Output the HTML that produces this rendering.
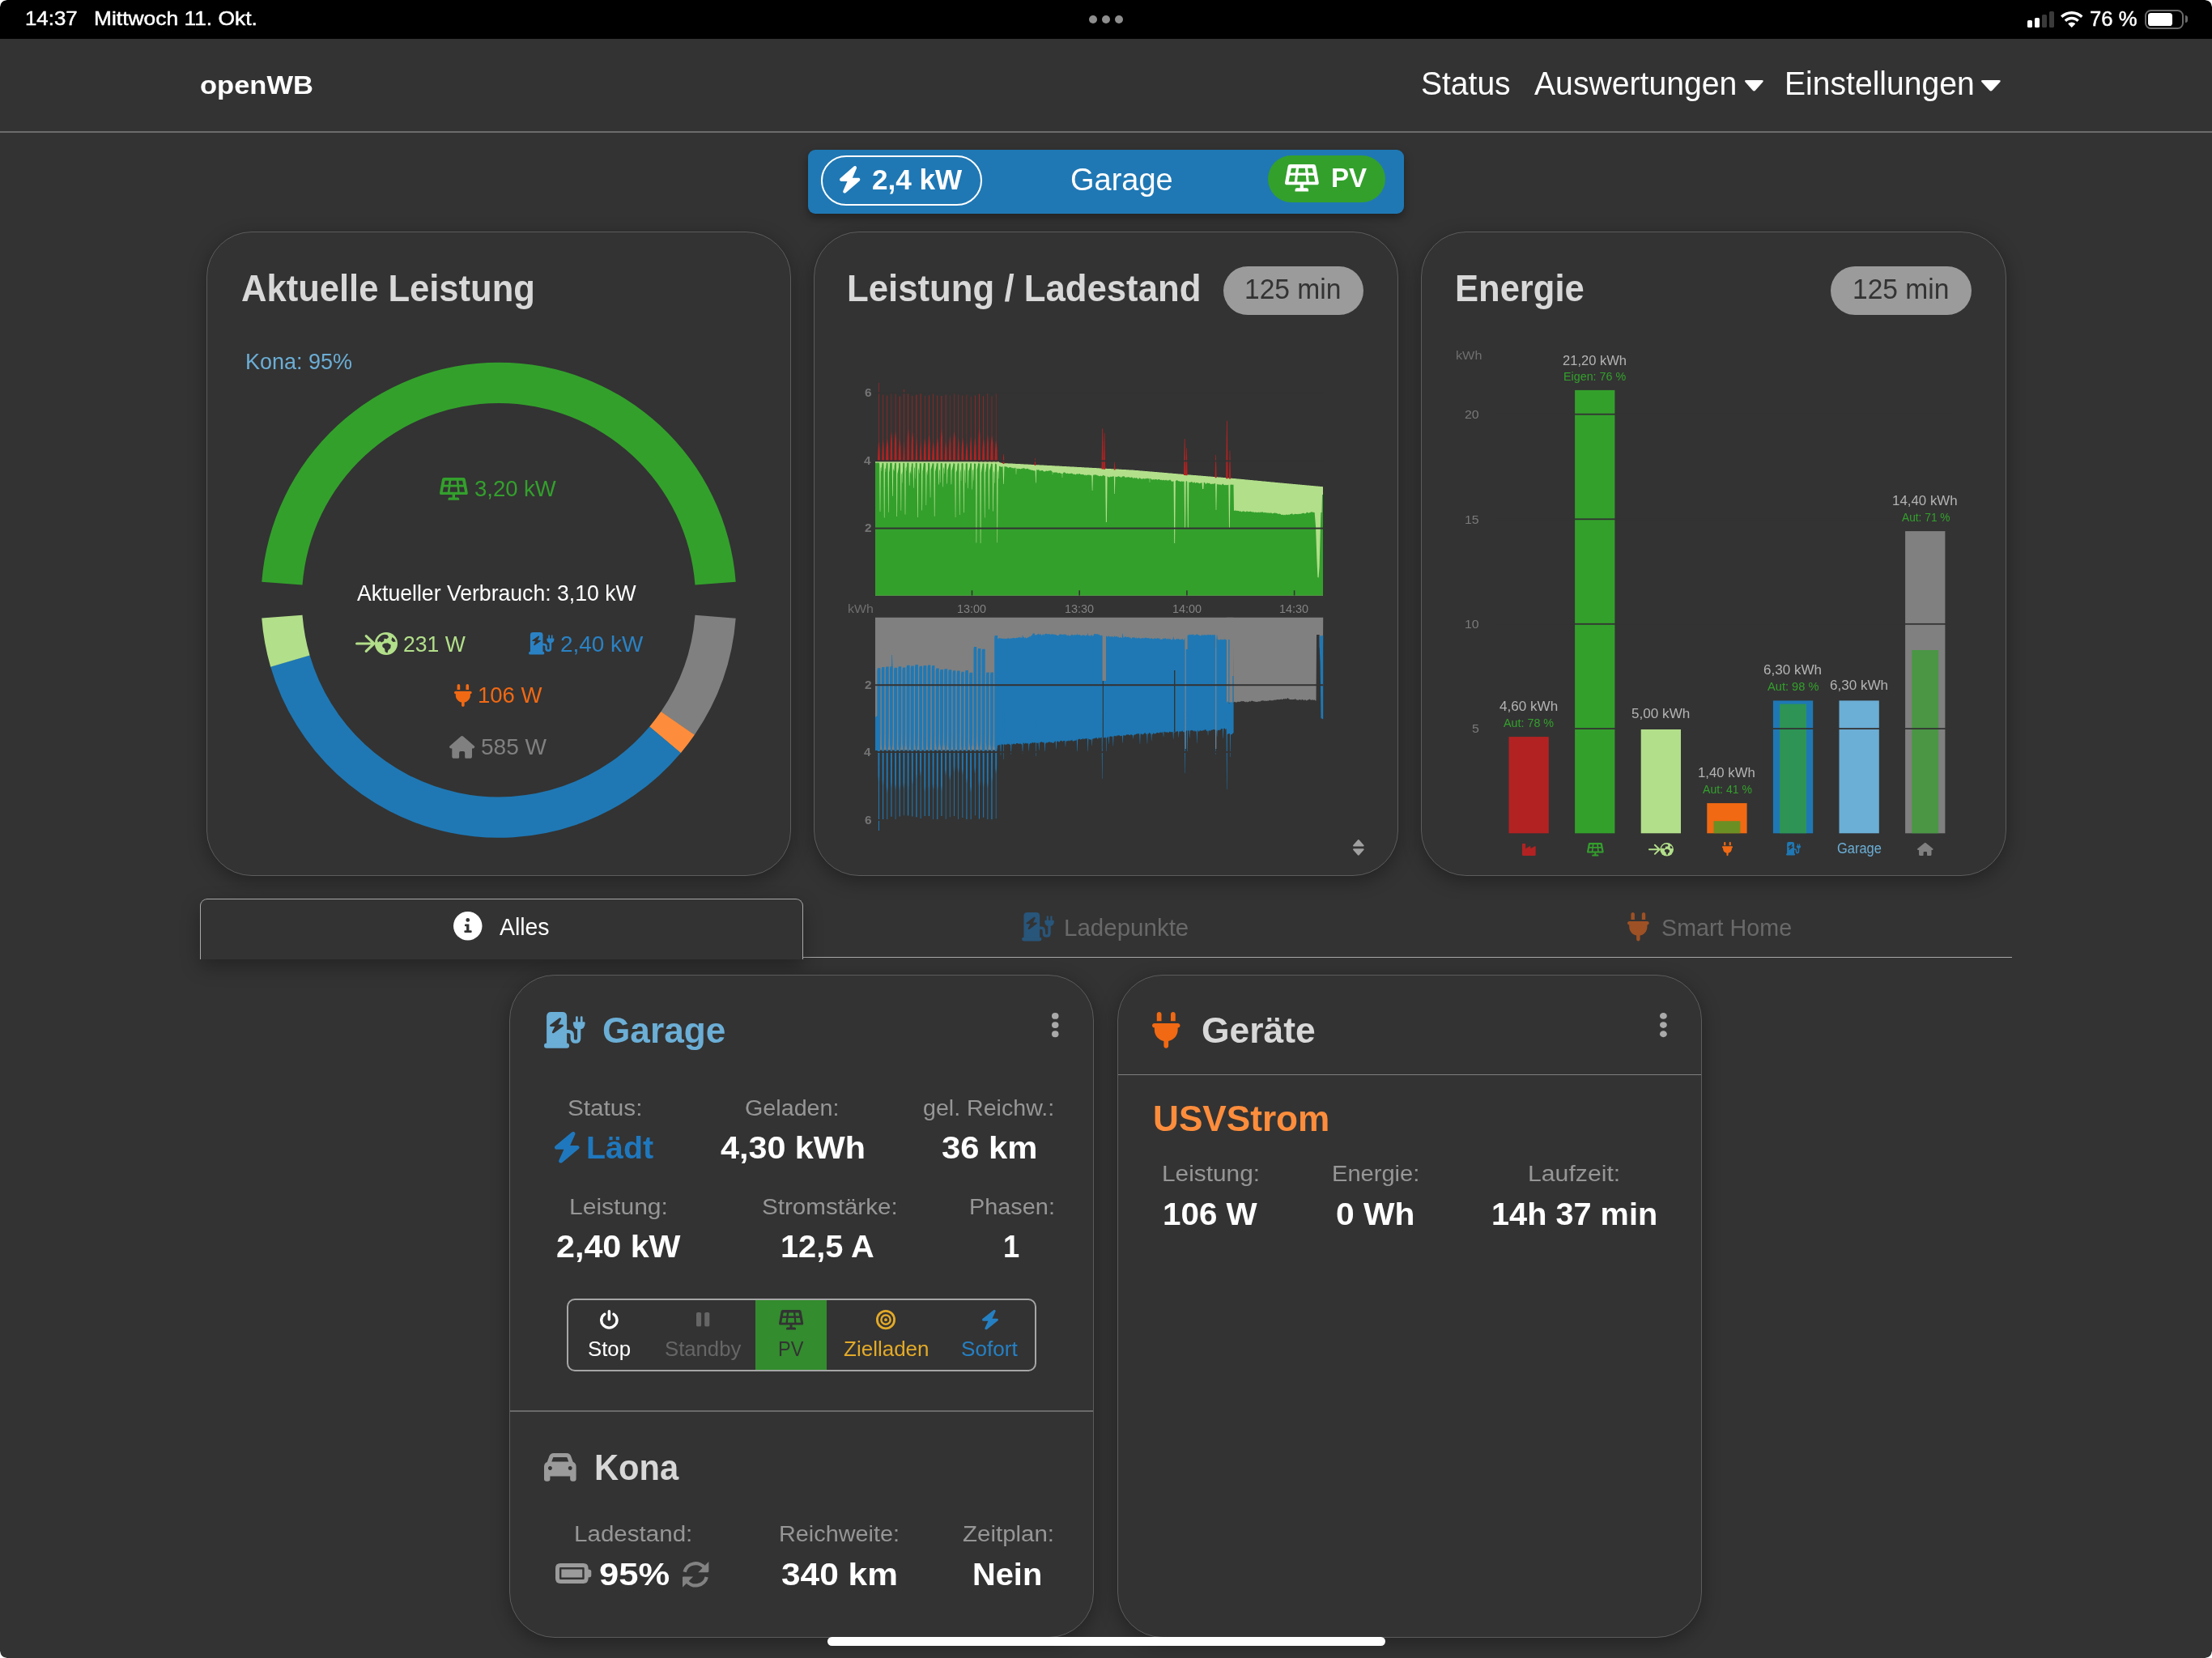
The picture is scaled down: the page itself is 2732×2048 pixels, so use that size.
<!DOCTYPE html>
<html lang="de"><head><meta charset="utf-8"><title>openWB</title><style>
html,body{margin:0;padding:0}
html{overflow:hidden;background:#333}
body{width:2732px;height:2048px;background:#333;position:relative;overflow:hidden;font-family:"Liberation Sans",sans-serif}
.t{position:absolute;white-space:nowrap;line-height:1;transform-origin:0 0;display:block}
.i{position:absolute;display:block;overflow:visible}
.a{position:absolute;box-sizing:border-box}
.card{position:absolute;box-sizing:border-box;border:1px solid #5c5c5c;border-radius:56px;background:#333;box-shadow:0 6px 22px 1px rgba(0,0,0,.30)}
.pill{position:absolute;background:#9b9b9b;border-radius:40px}
</style></head><body>
<div class="a" style="left:0;top:0;width:2732px;height:48px;background:#000"></div>
<div class="a" style="left:1345px;top:19px;width:10px;height:10px;border-radius:5px;background:#8e8e8e"></div>
<div class="a" style="left:1361px;top:19px;width:10px;height:10px;border-radius:5px;background:#8e8e8e"></div>
<div class="a" style="left:1377px;top:19px;width:10px;height:10px;border-radius:5px;background:#8e8e8e"></div>
<div class="a" style="left:2504px;top:24.9px;width:6px;height:9px;border-radius:1.6px;background:#fff"></div>
<div class="a" style="left:2513px;top:21.9px;width:6px;height:12px;border-radius:1.6px;background:#fff"></div>
<div class="a" style="left:2522.3px;top:18px;width:5.9px;height:15.9px;border-radius:1.6px;background:#3a3a3a"></div>
<div class="a" style="left:2531.3px;top:14px;width:5.8px;height:19.9px;border-radius:1.6px;background:#3a3a3a"></div>
<svg class="i" style="left:2545.3px;top:14px" width="27.5" height="20.1" viewBox="0 0 100 73"><path fill="#fff" d="M50 0 C30 0 12.5 7.500 0 20 L8.500 29.500 C19.500 19 34 12.800 50 12.800 S80.500 19 91.500 29.500 L100 20 C87.500 7.500 70 0 50 0Z M50 24.500 C37 24.500 25.500 29.500 17 38 L25.800 47.600 C32.200 41.500 40.700 37.600 50 37.600 S67.800 41.500 74.200 47.600 L83 38 C74.500 29.500 63 24.500 50 24.500Z M50 49.500 C43.600 49.500 37.800 52 33.600 56.300 L50 73 L66.400 56.300 C62.200 52 56.400 49.500 50 49.500Z"/></svg>
<div class="a" style="left:2649.2px;top:12px;width:47.6px;height:24px;border:2px solid #6a6a6a;border-radius:7.5px"></div>
<div class="a" style="left:2652.8px;top:16.1px;width:30.3px;height:16px;border-radius:3.6px;background:#fff"></div>
<div class="a" style="left:2699px;top:19.2px;width:3px;height:8.8px;border-radius:0 3px 3px 0;background:#6a6a6a"></div>
<div class="a" style="left:0;top:162px;width:2732px;height:2px;background:#6c6c6c"></div>
<div class="a" style="left:998.3px;top:184.8px;width:735.6px;height:79.7px;border-radius:9px;background:#1f78b4;box-shadow:0 5px 12px rgba(0,0,0,.35)"></div>
<div class="a" style="left:1014.2px;top:191.9px;width:198.5px;height:61.7px;border-radius:31px;border:2px solid #fff"></div>
<div class="a" style="left:1566px;top:191.9px;width:145px;height:58.1px;border-radius:30px;background:#33a02c"></div>
<div class="card" style="left:254.6px;top:286px;width:722.2px;height:795.6px"></div>
<div class="card" style="left:1005.0px;top:286px;width:722.2px;height:795.6px"></div>
<div class="card" style="left:1755.4px;top:286px;width:722.2px;height:795.6px"></div>
<div class="pill" style="left:1510.9px;top:329.2px;width:173.3px;height:59.5px"></div>
<div class="pill" style="left:2260.9px;top:329.2px;width:173.9px;height:59.5px"></div>
<div class="a" style="left:247.4px;top:1182.2px;width:2237.6px;height:1.3px;background:#a8a8a8"></div>
<div class="a" style="left:247.4px;top:1110.2px;width:744.8px;height:74.4px;border:1.3px solid #a8a8a8;border-bottom:none;border-radius:9px 9px 0 0;background:#333;box-shadow:0 9px 24px rgba(0,0,0,.30)"></div>
<div class="card" style="left:629.2px;top:1204.2px;width:721.8px;height:819.2px"></div>
<div class="card" style="left:1380.2px;top:1204.2px;width:722.2px;height:819.2px"></div>
<div class="a" style="left:630.2px;top:1742.4px;width:719.8px;height:2px;background:#6a6a6a"></div>
<div class="a" style="left:1381.2px;top:1326.5px;width:720.2px;height:1.3px;background:#7e7e7e"></div>
<div class="a" style="left:700.4px;top:1604.2px;width:579.6px;height:89.6px;border:2.4px solid #a6a6a6;border-radius:10px"></div>
<div class="a" style="left:933px;top:1606px;width:88.2px;height:86px;background:#338c2e"></div>
<div class="a" style="left:1021.8px;top:2021.6px;width:688.8px;height:11.2px;border-radius:5.6px;background:#fff"></div>
<div class="a" style="left:0;top:0;width:8px;height:8px;background:radial-gradient(circle at 100% 100%,rgba(255,255,255,0) 7.2px,#fff 8px)"></div>
<div class="a" style="right:0;top:0;width:8px;height:8px;background:radial-gradient(circle at 0 100%,rgba(255,255,255,0) 7.2px,#fff 8px)"></div>
<div class="a" style="left:0;bottom:0;width:8px;height:8px;background:radial-gradient(circle at 100% 0,rgba(255,255,255,0) 7.2px,#fff 8px)"></div>
<div class="a" style="right:0;bottom:0;width:8px;height:8px;background:radial-gradient(circle at 0 0,rgba(255,255,255,0) 7.2px,#fff 8px)"></div>
<svg class="i" style="left:0;top:0" width="2732" height="1100" viewBox="0 0 2732 1100">
<path fill="#33a02c" d="M323.27 718.68 A293.6 293.6 0 0 1 908.73 718.68 L858.48 722.54 A243.2 243.2 0 0 0 373.52 722.54Z"/>
<path fill="#808080" d="M908.73 763.72 A293.6 293.6 0 0 1 857.68 907.91 L816.19 879.29 A243.2 243.2 0 0 0 858.48 759.86Z"/>
<path fill="#fd8d3c" d="M857.82 907.7 A293.6 293.6 0 0 1 840.71 930.16 L802.14 897.72 A243.2 243.2 0 0 0 816.31 879.12Z"/>
<path fill="#1f78b4" d="M840.87 929.96 A293.6 293.6 0 0 1 334.14 823.38 L382.52 809.27 A243.2 243.2 0 0 0 802.27 897.56Z"/>
<path fill="#b2df8a" d="M334.21 823.63 A293.6 293.6 0 0 1 323.25 763.47 L373.5 759.65 A243.2 243.2 0 0 0 382.58 809.48Z"/>
<rect x="1863.5" y="910.1" width="49.3" height="119.2" fill="#b22222"/>
<rect x="1945.1" y="481.9" width="49.3" height="547.4" fill="#33a02c"/>
<rect x="2026.7" y="900.9" width="49.3" height="128.4" fill="#b2df8a"/>
<rect x="2108.3" y="992.1" width="49.3" height="37.2" fill="#f16913"/><rect x="2116.5" y="1014.2" width="32.9" height="15.1" fill="#33a02c" fill-opacity="0.7"/>
<rect x="2189.9" y="865.4" width="49.3" height="163.9" fill="#1f78b4"/><rect x="2198.1" y="869.6" width="32.9" height="159.7" fill="#33a02c" fill-opacity="0.7"/>
<rect x="2271.5" y="865.4" width="49.3" height="163.9" fill="#6baed6"/>
<rect x="2353.1" y="656.1" width="49.3" height="373.2" fill="#808080"/><rect x="2361.3" y="803" width="32.9" height="226.3" fill="#33a02c" fill-opacity="0.7"/>
<rect x="1850" y="510.8" width="560" height="1.8" fill="#333333"/>
<rect x="1850" y="640.4" width="560" height="1.8" fill="#333333"/>
<rect x="1850" y="769.9" width="560" height="1.8" fill="#333333"/>
<rect x="1850" y="899.2" width="560" height="1.8" fill="#333333"/>
<path d="M1081 569.4 L1081.5 569.4 L1082 569.4 L1082.5 569.4 L1083 569.4 L1083.5 569.4 L1084 569.4 L1084.5 569.4 L1085 569.4 L1085.5 569.4 L1086 569.4 L1086.5 569.4 L1087 569.4 L1087.5 569.4 L1088 569.4 L1088.5 569.4 L1089 569.4 L1089.5 569.5 L1090 569.5 L1090.5 569.5 L1091 569.5 L1091.5 569.5 L1092 569.5 L1092.5 569.5 L1093 569.5 L1093.5 569.5 L1094 569.5 L1094.5 569.5 L1095 569.5 L1095.5 569.5 L1096 569.5 L1096.5 569.5 L1097 569.5 L1097.5 569.5 L1098 569.5 L1098.5 569.5 L1099 569.5 L1099.5 569.5 L1100 569.5 L1100.5 569.5 L1101 569.5 L1101.5 569.5 L1102 569.5 L1102.5 569.5 L1103 569.5 L1103.5 569.5 L1104 569.5 L1104.5 569.5 L1105 569.5 L1105.5 569.5 L1106 569.5 L1106.5 569.6 L1107 569.6 L1107.5 569.6 L1108 569.6 L1108.5 569.6 L1109 569.6 L1109.5 569.6 L1110 569.6 L1110.5 569.6 L1111 569.6 L1111.5 569.6 L1112 569.6 L1112.5 569.6 L1113 569.6 L1113.5 569.6 L1114 569.6 L1114.5 569.6 L1115 569.6 L1115.5 569.6 L1116 569.6 L1116.5 569.6 L1117 569.6 L1117.5 569.6 L1118 569.6 L1118.5 569.6 L1119 569.6 L1119.5 569.6 L1120 569.6 L1120.5 569.6 L1121 569.6 L1121.5 569.6 L1122 569.6 L1122.5 569.6 L1123 569.7 L1123.5 569.7 L1124 569.7 L1124.5 569.7 L1125 569.7 L1125.5 569.7 L1126 569.7 L1126.5 569.7 L1127 569.7 L1127.5 569.7 L1128 569.7 L1128.5 569.7 L1129 569.7 L1129.5 569.7 L1130 569.7 L1130.5 569.7 L1131 569.7 L1131.5 569.7 L1132 569.7 L1132.5 569.7 L1133 569.7 L1133.5 569.7 L1134 569.7 L1134.5 569.7 L1135 569.7 L1135.5 569.7 L1136 569.7 L1136.5 569.7 L1137 569.7 L1137.5 569.7 L1138 569.7 L1138.5 569.7 L1139 569.7 L1139.5 569.8 L1140 569.8 L1140.5 569.8 L1141 569.8 L1141.5 569.8 L1142 569.8 L1142.5 569.8 L1143 569.8 L1143.5 569.8 L1144 569.8 L1144.5 569.8 L1145 569.8 L1145.5 569.8 L1146 569.8 L1146.5 569.8 L1147 569.8 L1147.5 569.8 L1148 569.8 L1148.5 569.8 L1149 569.8 L1149.5 569.8 L1150 569.8 L1150.5 569.8 L1151 569.8 L1151.5 569.8 L1152 569.8 L1152.5 569.8 L1153 569.8 L1153.5 569.8 L1154 569.8 L1154.5 569.8 L1155 569.8 L1155.5 569.8 L1156 569.8 L1156.5 569.9 L1157 569.9 L1157.5 569.9 L1158 569.9 L1158.5 569.9 L1159 569.9 L1159.5 569.9 L1160 569.9 L1160.5 569.9 L1161 569.9 L1161.5 569.9 L1162 569.9 L1162.5 569.9 L1163 569.9 L1163.5 569.9 L1164 569.9 L1164.5 569.9 L1165 569.9 L1165.5 569.9 L1166 569.9 L1166.5 569.9 L1167 569.9 L1167.5 569.9 L1168 569.9 L1168.5 569.9 L1169 569.9 L1169.5 569.9 L1170 569.9 L1170.5 569.9 L1171 569.9 L1171.5 569.9 L1172 569.9 L1172.5 569.9 L1173 570 L1173.5 570 L1174 570 L1174.5 570 L1175 570 L1175.5 570 L1176 570 L1176.5 570 L1177 570 L1177.5 570 L1178 570 L1178.5 570 L1179 570 L1179.5 570 L1180 570 L1180.5 570 L1181 570 L1181.5 570 L1182 570 L1182.5 570 L1183 570 L1183.5 570 L1184 570 L1184.5 570 L1185 570 L1185.5 570 L1186 570 L1186.5 570 L1187 570 L1187.5 570 L1188 570 L1188.5 570 L1189 570 L1189.5 570.1 L1190 570.1 L1190.5 570.1 L1191 570.1 L1191.5 570.1 L1192 570.1 L1192.5 570.1 L1193 570.1 L1193.5 570.1 L1194 570.1 L1194.5 570.1 L1195 570.1 L1195.5 570.1 L1196 570.1 L1196.5 570.1 L1197 570.1 L1197.5 570.1 L1198 570.1 L1198.5 570.1 L1199 570.1 L1199.5 570.1 L1200 570.1 L1200.5 570.1 L1201 570.1 L1201.5 570.1 L1202 570.1 L1202.5 570.1 L1203 570.1 L1203.5 570.1 L1204 570.1 L1204.5 570.1 L1205 570.1 L1205.5 570.1 L1206 570.1 L1206.5 570.2 L1207 570.2 L1207.5 570.2 L1208 570.2 L1208.5 570.2 L1209 570.2 L1209.5 570.2 L1210 570.2 L1210.5 570.2 L1211 570.2 L1211.5 570.2 L1212 570.2 L1212.5 570.2 L1213 570.2 L1213.5 570.2 L1214 570.2 L1214.5 570.2 L1215 570.2 L1215.5 570.2 L1216 570.2 L1216.5 570.2 L1217 570.2 L1217.5 570.2 L1218 570.2 L1218.5 570.2 L1219 570.2 L1219.5 570.2 L1220 570.2 L1220.5 570.2 L1221 570.2 L1221.5 570.2 L1222 570.2 L1222.5 570.2 L1223 570.3 L1223.5 570.3 L1224 570.3 L1224.5 570.3 L1225 570.3 L1225.5 570.3 L1226 570.3 L1226.5 570.3 L1227 570.3 L1227.5 570.3 L1228 570.3 L1228.5 570.3 L1229 570.3 L1229.5 570.3 L1230 570.3 L1230.5 570.3 L1231 570.3 L1231.5 570.4 L1232 570.5 L1232.5 570.7 L1233 570.8 L1233.5 570.9 L1234 571 L1234.5 571.1 L1235 571.3 L1235.5 571.4 L1236 571.5 L1236.5 571.6 L1237 571.8 L1237.5 571.9 L1238 572 L1238.5 572 L1239 572.1 L1239.5 572.1 L1240 572.1 L1240.5 572.1 L1241 572.2 L1241.5 572.2 L1242 572.2 L1242.5 572.2 L1243 572.3 L1243.5 572.3 L1244 572.3 L1244.5 572.3 L1245 572.4 L1245.5 572.4 L1246 572.4 L1246.5 572.4 L1247 572.5 L1247.5 572.5 L1248 572.5 L1248.5 572.5 L1249 572.6 L1249.5 572.6 L1250 572.6 L1250.5 572.6 L1251 572.7 L1251.5 572.7 L1252 572.7 L1252.5 572.7 L1253 572.8 L1253.5 572.8 L1254 572.8 L1254.5 572.9 L1255 572.9 L1255.5 572.9 L1256 572.9 L1256.5 573 L1257 573 L1257.5 573 L1258 573 L1258.5 573.1 L1259 573.1 L1259.5 573.1 L1260 573.1 L1260.5 573.2 L1261 573.2 L1261.5 573.2 L1262 573.2 L1262.5 573.3 L1263 573.3 L1263.5 573.3 L1264 573.3 L1264.5 573.4 L1265 573.4 L1265.5 573.4 L1266 573.4 L1266.5 573.5 L1267 573.5 L1267.5 573.5 L1268 573.5 L1268.5 573.6 L1269 573.6 L1269.5 573.6 L1270 573.7 L1270.5 573.7 L1271 573.7 L1271.5 573.7 L1272 573.8 L1272.5 573.8 L1273 573.8 L1273.5 573.8 L1274 573.9 L1274.5 573.9 L1275 573.9 L1275.5 573.9 L1276 574 L1276.5 574 L1277 574 L1277.5 574 L1278 574.1 L1278.5 574.1 L1279 574.1 L1279.5 574.1 L1280 574.2 L1280.5 574.2 L1281 574.2 L1281.5 574.2 L1282 574.3 L1282.5 574.3 L1283 574.3 L1283.5 574.3 L1284 574.4 L1284.5 574.4 L1285 574.4 L1285.5 574.5 L1286 574.5 L1286.5 574.5 L1287 574.5 L1287.5 574.6 L1288 574.6 L1288.5 574.6 L1289 574.6 L1289.5 574.7 L1290 574.7 L1290.5 574.7 L1291 574.7 L1291.5 574.8 L1292 574.8 L1292.5 574.8 L1293 574.8 L1293.5 574.9 L1294 574.9 L1294.5 574.9 L1295 574.9 L1295.5 575 L1296 575 L1296.5 575 L1297 575 L1297.5 575.1 L1298 575.1 L1298.5 575.1 L1299 575.1 L1299.5 575.2 L1300 575.2 L1300.5 575.2 L1301 575.3 L1301.5 575.3 L1302 575.3 L1302.5 575.3 L1303 575.4 L1303.5 575.4 L1304 575.4 L1304.5 575.4 L1305 575.5 L1305.5 575.5 L1306 575.5 L1306.5 575.6 L1307 575.6 L1307.5 575.6 L1308 575.6 L1308.5 575.7 L1309 575.7 L1309.5 575.7 L1310 575.7 L1310.5 575.8 L1311 575.8 L1311.5 575.8 L1312 575.9 L1312.5 575.9 L1313 575.9 L1313.5 575.9 L1314 576 L1314.5 576 L1315 576 L1315.5 576 L1316 576.1 L1316.5 576.1 L1317 576.1 L1317.5 576.2 L1318 576.2 L1318.5 576.2 L1319 576.2 L1319.5 576.3 L1320 576.3 L1320.5 576.3 L1321 576.3 L1321.5 576.4 L1322 576.4 L1322.5 576.4 L1323 576.5 L1323.5 576.5 L1324 576.5 L1324.5 576.5 L1325 576.6 L1325.5 576.6 L1326 576.6 L1326.5 576.6 L1327 576.7 L1327.5 576.7 L1328 576.7 L1328.5 576.8 L1329 576.8 L1329.5 576.8 L1330 576.8 L1330.5 576.9 L1331 576.9 L1331.5 576.9 L1332 576.9 L1332.5 577 L1333 577 L1333.5 577 L1334 577.1 L1334.5 577.1 L1335 577.1 L1335.5 577.1 L1336 577.2 L1336.5 577.2 L1337 577.2 L1337.5 577.2 L1338 577.3 L1338.5 577.3 L1339 577.3 L1339.5 577.4 L1340 577.4 L1340.5 577.4 L1341 577.4 L1341.5 577.5 L1342 577.5 L1342.5 577.5 L1343 577.5 L1343.5 577.6 L1344 577.6 L1344.5 577.6 L1345 577.7 L1345.5 577.7 L1346 577.7 L1346.5 577.7 L1347 577.8 L1347.5 577.8 L1348 577.8 L1348.5 577.8 L1349 577.9 L1349.5 577.9 L1350 577.9 L1350.5 578 L1351 578 L1351.5 578 L1352 578 L1352.5 578.1 L1353 578.1 L1353.5 578.1 L1354 578.1 L1354.5 578.2 L1355 578.2 L1355.5 578.2 L1356 578.3 L1356.5 578.3 L1357 578.3 L1357.5 578.3 L1358 578.4 L1358.5 578.4 L1359 578.4 L1359.5 578.4 L1360 578.5 L1360.5 578.5 L1361 578.5 L1361.5 578.6 L1362 578.6 L1362.5 578.6 L1363 578.6 L1363.5 578.7 L1364 578.7 L1364.5 578.7 L1365 578.7 L1365.5 578.8 L1366 578.8 L1366.5 578.8 L1367 578.9 L1367.5 578.9 L1368 578.9 L1368.5 578.9 L1369 579 L1369.5 579 L1370 579 L1370.5 579 L1371 579.1 L1371.5 579.1 L1372 579.1 L1372.5 579.2 L1373 579.2 L1373.5 579.2 L1374 579.2 L1374.5 579.3 L1375 579.3 L1375.5 579.3 L1376 579.3 L1376.5 579.4 L1377 579.4 L1377.5 579.4 L1378 579.5 L1378.5 579.5 L1379 579.5 L1379.5 579.5 L1380 579.6 L1380.5 579.6 L1381 579.6 L1381.5 579.6 L1382 579.7 L1382.5 579.7 L1383 579.7 L1383.5 579.8 L1384 579.8 L1384.5 579.8 L1385 579.8 L1385.5 579.9 L1386 579.9 L1386.5 579.9 L1387 579.9 L1387.5 580 L1388 580 L1388.5 580 L1389 580.1 L1389.5 580.1 L1390 580.1 L1390.5 580.1 L1391 580.2 L1391.5 580.2 L1392 580.2 L1392.5 580.2 L1393 580.3 L1393.5 580.3 L1394 580.3 L1394.5 580.4 L1395 580.4 L1395.5 580.4 L1396 580.4 L1396.5 580.5 L1397 580.5 L1397.5 580.5 L1398 580.5 L1398.5 580.6 L1399 580.6 L1399.5 580.6 L1400 580.7 L1400.5 580.7 L1401 580.8 L1401.5 580.8 L1402 580.9 L1402.5 580.9 L1403 580.9 L1403.5 581 L1404 581 L1404.5 581.1 L1405 581.1 L1405.5 581.1 L1406 581.2 L1406.5 581.2 L1407 581.3 L1407.5 581.3 L1408 581.4 L1408.5 581.4 L1409 581.4 L1409.5 581.5 L1410 581.5 L1410.5 581.6 L1411 581.6 L1411.5 581.7 L1412 581.7 L1412.5 581.7 L1413 581.8 L1413.5 581.8 L1414 581.9 L1414.5 581.9 L1415 582 L1415.5 582 L1416 582 L1416.5 582.1 L1417 582.1 L1417.5 582.2 L1418 582.2 L1418.5 582.2 L1419 582.3 L1419.5 582.3 L1420 582.4 L1420.5 582.4 L1421 582.5 L1421.5 582.5 L1422 582.5 L1422.5 582.6 L1423 582.6 L1423.5 582.7 L1424 582.7 L1424.5 582.8 L1425 582.8 L1425.5 582.8 L1426 582.9 L1426.5 582.9 L1427 583 L1427.5 583 L1428 583 L1428.5 583.1 L1429 583.1 L1429.5 583.2 L1430 583.2 L1430.5 583.3 L1431 583.3 L1431.5 583.3 L1432 583.4 L1432.5 583.4 L1433 583.5 L1433.5 583.5 L1434 583.6 L1434.5 583.6 L1435 583.6 L1435.5 583.7 L1436 583.7 L1436.5 583.8 L1437 583.8 L1437.5 583.8 L1438 583.9 L1438.5 583.9 L1439 584 L1439.5 584 L1440 584.1 L1440.5 584.1 L1441 584.1 L1441.5 584.2 L1442 584.2 L1442.5 584.3 L1443 584.3 L1443.5 584.4 L1444 584.4 L1444.5 584.4 L1445 584.5 L1445.5 584.5 L1446 584.6 L1446.5 584.6 L1447 584.6 L1447.5 584.7 L1448 584.7 L1448.5 584.8 L1449 584.8 L1449.5 584.9 L1450 584.9 L1450.5 584.9 L1451 585 L1451.5 585 L1452 585.1 L1452.5 585.1 L1453 585.2 L1453.5 585.2 L1454 585.2 L1454.5 585.3 L1455 585.3 L1455.5 585.4 L1456 585.4 L1456.5 585.5 L1457 585.5 L1457.5 585.5 L1458 585.6 L1458.5 585.6 L1459 585.7 L1459.5 585.7 L1460 585.7 L1460.5 585.8 L1461 585.8 L1461.5 585.9 L1462 585.9 L1462.5 586 L1463 586 L1463.5 586 L1464 586.1 L1464.5 586.1 L1465 586.2 L1465.5 586.2 L1466 586.2 L1466.5 586.3 L1467 586.3 L1467.5 586.4 L1468 586.4 L1468.5 586.4 L1469 586.5 L1469.5 586.5 L1470 586.6 L1470.5 586.6 L1471 586.7 L1471.5 586.7 L1472 586.7 L1472.5 586.8 L1473 586.8 L1473.5 586.9 L1474 586.9 L1474.5 586.9 L1475 587 L1475.5 587 L1476 587.1 L1476.5 587.1 L1477 587.1 L1477.5 587.2 L1478 587.2 L1478.5 587.3 L1479 587.3 L1479.5 587.3 L1480 587.4 L1480.5 587.4 L1481 587.5 L1481.5 587.5 L1482 587.6 L1482.5 587.6 L1483 587.6 L1483.5 587.7 L1484 587.7 L1484.5 587.8 L1485 587.8 L1485.5 587.8 L1486 587.9 L1486.5 587.9 L1487 588 L1487.5 588 L1488 588 L1488.5 588.1 L1489 588.1 L1489.5 588.2 L1490 588.2 L1490.5 588.2 L1491 588.3 L1491.5 588.3 L1492 588.4 L1492.5 588.4 L1493 588.5 L1493.5 588.5 L1494 588.5 L1494.5 588.6 L1495 588.6 L1495.5 588.7 L1496 588.7 L1496.5 588.7 L1497 588.8 L1497.5 588.8 L1498 588.9 L1498.5 588.9 L1499 588.9 L1499.5 589 L1500 589 L1500.5 589.1 L1501 589.1 L1501.5 589.1 L1502 589.2 L1502.5 589.2 L1503 589.3 L1503.5 589.3 L1504 589.3 L1504.5 589.4 L1505 589.4 L1505.5 589.5 L1506 589.5 L1506.5 589.6 L1507 589.6 L1507.5 589.6 L1508 589.7 L1508.5 589.7 L1509 589.8 L1509.5 589.8 L1510 589.8 L1510.5 589.9 L1511 589.9 L1511.5 590 L1512 590 L1512.5 590 L1513 590.1 L1513.5 590.1 L1514 590.2 L1514.5 590.2 L1515 590.2 L1515.5 590.3 L1516 590.3 L1516.5 590.4 L1517 590.4 L1517.5 590.5 L1518 590.5 L1518.5 590.5 L1519 590.6 L1519.5 590.6 L1520 590.7 L1520.5 590.7 L1521 590.7 L1521.5 590.8 L1522 590.8 L1522.5 590.9 L1523 590.9 L1523.5 590.9 L1524 591 L1524.5 591 L1525 591.1 L1525.5 591.1 L1526 591.2 L1526.5 591.2 L1527 591.3 L1527.5 591.3 L1528 591.4 L1528.5 591.4 L1529 591.5 L1529.5 591.5 L1530 591.6 L1530.5 591.6 L1531 591.7 L1531.5 591.7 L1532 591.8 L1532.5 591.8 L1533 591.8 L1533.5 591.9 L1534 591.9 L1534.5 592 L1535 592 L1535.5 592.1 L1536 592.1 L1536.5 592.2 L1537 592.2 L1537.5 592.3 L1538 592.3 L1538.5 592.4 L1539 592.4 L1539.5 592.5 L1540 592.5 L1540.5 592.6 L1541 592.6 L1541.5 592.7 L1542 592.7 L1542.5 592.7 L1543 592.8 L1543.5 592.8 L1544 592.9 L1544.5 592.9 L1545 593 L1545.5 593 L1546 593.1 L1546.5 593.1 L1547 593.2 L1547.5 593.2 L1548 593.3 L1548.5 593.3 L1549 593.4 L1549.5 593.4 L1550 593.5 L1550.5 593.5 L1551 593.6 L1551.5 593.6 L1552 593.6 L1552.5 593.7 L1553 593.7 L1553.5 593.8 L1554 593.8 L1554.5 593.9 L1555 593.9 L1555.5 594 L1556 594 L1556.5 594.1 L1557 594.1 L1557.5 594.2 L1558 594.2 L1558.5 594.3 L1559 594.3 L1559.5 594.4 L1560 594.4 L1560.5 594.5 L1561 594.5 L1561.5 594.5 L1562 594.6 L1562.5 594.6 L1563 594.7 L1563.5 594.7 L1564 594.8 L1564.5 594.8 L1565 594.9 L1565.5 594.9 L1566 595 L1566.5 595 L1567 595.1 L1567.5 595.1 L1568 595.2 L1568.5 595.2 L1569 595.3 L1569.5 595.3 L1570 595.4 L1570.5 595.4 L1571 595.4 L1571.5 595.5 L1572 595.5 L1572.5 595.6 L1573 595.6 L1573.5 595.7 L1574 595.7 L1574.5 595.8 L1575 595.8 L1575.5 595.9 L1576 595.9 L1576.5 596 L1577 596 L1577.5 596.1 L1578 596.1 L1578.5 596.2 L1579 596.2 L1579.5 596.3 L1580 596.3 L1580.5 596.3 L1581 596.4 L1581.5 596.4 L1582 596.5 L1582.5 596.5 L1583 596.6 L1583.5 596.6 L1584 596.7 L1584.5 596.7 L1585 596.8 L1585.5 596.8 L1586 596.8 L1586.5 596.9 L1587 596.9 L1587.5 597 L1588 597 L1588.5 597.1 L1589 597.1 L1589.5 597.2 L1590 597.2 L1590.5 597.3 L1591 597.3 L1591.5 597.3 L1592 597.4 L1592.5 597.4 L1593 597.5 L1593.5 597.5 L1594 597.6 L1594.5 597.6 L1595 597.7 L1595.5 597.7 L1596 597.8 L1596.5 597.8 L1597 597.8 L1597.5 597.9 L1598 597.9 L1598.5 598 L1599 598 L1599.5 598.1 L1600 598.1 L1600.5 598.2 L1601 598.2 L1601.5 598.3 L1602 598.3 L1602.5 598.3 L1603 598.4 L1603.5 598.4 L1604 598.5 L1604.5 598.5 L1605 598.6 L1605.5 598.6 L1606 598.7 L1606.5 598.7 L1607 598.8 L1607.5 598.8 L1608 598.8 L1608.5 598.9 L1609 598.9 L1609.5 599 L1610 599 L1610.5 599.1 L1611 599.1 L1611.5 599.2 L1612 599.2 L1612.5 599.2 L1613 599.3 L1613.5 599.3 L1614 599.4 L1614.5 599.4 L1615 599.5 L1615.5 599.5 L1616 599.6 L1616.5 599.6 L1617 599.7 L1617.5 599.7 L1618 599.7 L1618.5 599.8 L1619 599.8 L1619.5 599.9 L1620 599.9 L1620.5 600 L1621 600 L1621.5 600.1 L1622 600.1 L1622.5 600.2 L1623 600.2 L1623.5 600.2 L1624 600.3 L1624.5 600.3 L1625 600.4 L1625.5 600.4 L1626 600.5 L1626.5 600.5 L1627 600.6 L1627.5 600.6 L1628 600.7 L1628.5 600.7 L1629 600.7 L1629.5 600.8 L1630 600.8 L1630.5 600.9 L1631 600.9 L1631.5 601 L1632 601 L1632.5 601.1 L1633 601.1 L1633.5 601.2 L1634 601.2 L1634 735.5 L1081 735.5Z" fill="#b2df8a" />
<path d="M1081 571.6 L1081.5 571.4 L1082 571.9 L1082.5 571.4 L1083 571.8 L1083.5 571.6 L1084 571.4 L1084.5 571.8 L1085 571.4 L1085.5 571.7 L1086 571.4 L1086.5 571.4 L1087 571.7 L1087.5 572.1 L1088 571.5 L1088.5 571.5 L1089 571.9 L1089.5 572.2 L1090 571.9 L1090.5 571.7 L1091 572.2 L1091.5 571.4 L1092 572.1 L1092.5 571.6 L1093 571.5 L1093.5 571.5 L1094 571.7 L1094.5 572.1 L1095 571.5 L1095.5 571.9 L1096 572 L1096.5 571.7 L1097 571.9 L1097.5 571.5 L1098 571.5 L1098.5 571.6 L1099 572 L1099.5 571.8 L1100 571.7 L1100.5 571.9 L1101 571.8 L1101.5 571.7 L1102 572.1 L1102.5 572.1 L1103 571.7 L1103.5 572 L1104 571.9 L1104.5 572.2 L1105 572.1 L1105.5 571.7 L1106 572.3 L1106.5 571.6 L1107 571.8 L1107.5 572.1 L1108 571.6 L1108.5 571.9 L1109 571.5 L1109.5 572.1 L1110 572.2 L1110.5 572 L1111 572.3 L1111.5 571.8 L1112 572.1 L1112.5 572 L1113 572 L1113.5 571.9 L1114 572.3 L1114.5 572.4 L1115 571.9 L1115.5 572.1 L1116 571.6 L1116.5 572.1 L1117 572.1 L1117.5 572.4 L1118 572.3 L1118.5 571.8 L1119 571.9 L1119.5 572.1 L1120 571.6 L1120.5 572 L1121 571.7 L1121.5 571.6 L1122 571.6 L1122.5 572.2 L1123 571.7 L1123.5 571.8 L1124 571.9 L1124.5 572.3 L1125 571.6 L1125.5 572 L1126 572.1 L1126.5 572.4 L1127 572.3 L1127.5 572.4 L1128 571.8 L1128.5 572 L1129 571.9 L1129.5 572.4 L1130 572.5 L1130.5 571.7 L1131 571.8 L1131.5 571.8 L1132 571.8 L1132.5 572 L1133 572.1 L1133.5 571.9 L1134 571.6 L1134.5 572 L1135 572 L1135.5 572.1 L1136 572.5 L1136.5 572.3 L1137 572.1 L1137.5 572.2 L1138 572.3 L1138.5 571.7 L1139 572.5 L1139.5 572.4 L1140 572.4 L1140.5 572.4 L1141 572 L1141.5 572 L1142 571.8 L1142.5 572.2 L1143 571.7 L1143.5 571.7 L1144 571.9 L1144.5 571.8 L1145 572 L1145.5 571.7 L1146 571.7 L1146.5 571.8 L1147 571.8 L1147.5 572 L1148 571.7 L1148.5 572.5 L1149 572.3 L1149.5 571.8 L1150 571.9 L1150.5 572 L1151 572 L1151.5 571.8 L1152 572.5 L1152.5 572.6 L1153 572.2 L1153.5 572.2 L1154 571.8 L1154.5 571.8 L1155 572.1 L1155.5 572 L1156 572.5 L1156.5 571.9 L1157 571.8 L1157.5 572.6 L1158 572.2 L1158.5 571.9 L1159 572.3 L1159.5 571.8 L1160 572.2 L1160.5 572.7 L1161 572.6 L1161.5 572.4 L1162 572 L1162.5 572.1 L1163 571.9 L1163.5 572.5 L1164 572.3 L1164.5 572.5 L1165 572.1 L1165.5 572 L1166 572.5 L1166.5 572.7 L1167 572.6 L1167.5 572.5 L1168 572.6 L1168.5 572.5 L1169 572 L1169.5 572.3 L1170 572.2 L1170.5 571.9 L1171 571.9 L1171.5 572.1 L1172 572.1 L1172.5 572.5 L1173 572.7 L1173.5 572.3 L1174 572.7 L1174.5 572.8 L1175 572.7 L1175.5 572.2 L1176 572.1 L1176.5 572.1 L1177 572.1 L1177.5 572.1 L1178 572.4 L1178.5 572.7 L1179 572.6 L1179.5 572.3 L1180 572.5 L1180.5 572.6 L1181 572 L1181.5 572.5 L1182 572.7 L1182.5 572.6 L1183 572.6 L1183.5 572.3 L1184 572.1 L1184.5 572.6 L1185 572.2 L1185.5 572.6 L1186 572.8 L1186.5 572.3 L1187 572.3 L1187.5 572.8 L1188 572.6 L1188.5 572.1 L1189 572.1 L1189.5 572.1 L1190 572.8 L1190.5 572.7 L1191 572.1 L1191.5 572.7 L1192 572.8 L1192.5 572.6 L1193 572.3 L1193.5 572.5 L1194 572.1 L1194.5 572 L1195 572.9 L1195.5 572.6 L1196 572.5 L1196.5 572.8 L1197 572.4 L1197.5 572.8 L1198 572.7 L1198.5 572.2 L1199 572.2 L1199.5 572.3 L1200 572.2 L1200.5 572.5 L1201 572.3 L1201.5 572.4 L1202 572.1 L1202.5 572.8 L1203 572.4 L1203.5 572.4 L1204 572.6 L1204.5 572.9 L1205 572.4 L1205.5 572.9 L1206 572.5 L1206.5 572.5 L1207 572.5 L1207.5 572.1 L1208 572.5 L1208.5 572.2 L1209 572.1 L1209.5 572.8 L1210 572.2 L1210.5 572.5 L1211 572.7 L1211.5 572.6 L1212 572.4 L1212.5 572.6 L1213 572.6 L1213.5 572.8 L1214 572.2 L1214.5 572.6 L1215 572.3 L1215.5 572.4 L1216 572.8 L1216.5 572.6 L1217 572.6 L1217.5 572.8 L1218 572.9 L1218.5 572.5 L1219 572.7 L1219.5 572.6 L1220 572.6 L1220.5 572.8 L1221 572.5 L1221.5 572.6 L1222 572.6 L1222.5 573 L1223 572.8 L1223.5 572.9 L1224 573 L1224.5 572.4 L1225 572.7 L1225.5 573 L1226 572.9 L1226.5 572.3 L1227 572.3 L1227.5 572.6 L1228 572.2 L1228.5 572.4 L1229 572.3 L1229.5 572.8 L1230 572.9 L1230.5 573 L1231 573.8 L1231.5 574.4 L1232 574.8 L1232.5 574.4 L1233 575.2 L1233.5 575.9 L1234 575.4 L1234.5 576.1 L1235 575.9 L1235.5 576 L1236 576.7 L1236.5 577 L1237 576.4 L1237.5 576.4 L1238 576.6 L1238.5 576.4 L1239 576.1 L1239.5 576.1 L1240 576.6 L1240.5 576.1 L1241 576.4 L1241.5 576.5 L1242 576.1 L1242.5 576.2 L1243 576.7 L1243.5 576.9 L1244 576.4 L1244.5 577.4 L1245 577.8 L1245.5 578.3 L1246 577.6 L1246.5 577.3 L1247 576.8 L1247.5 577.5 L1248 577.3 L1248.5 577 L1249 577.2 L1249.5 578 L1250 578.4 L1250.5 578 L1251 577.6 L1251.5 578.3 L1252 578.4 L1252.5 578.7 L1253 578.1 L1253.5 577.6 L1254 578.1 L1254.5 578.2 L1255 577.8 L1255.5 578.6 L1256 578.9 L1256.5 579.3 L1257 578.6 L1257.5 579.2 L1258 578.6 L1258.5 579.2 L1259 579.1 L1259.5 578.9 L1260 579.1 L1260.5 579.7 L1261 579.3 L1261.5 578.8 L1262 579.1 L1262.5 578.8 L1263 578.5 L1263.5 578.4 L1264 578.2 L1264.5 578.2 L1265 578.4 L1265.5 578.6 L1266 579.3 L1266.5 579.2 L1267 579.4 L1267.5 579.1 L1268 579.2 L1268.5 578.8 L1269 578.9 L1269.5 578.6 L1270 579.4 L1270.5 579.7 L1271 579.5 L1271.5 579.7 L1272 580.5 L1272.5 579.9 L1273 580.5 L1273.5 580.4 L1274 580.5 L1274.5 581 L1275 580.7 L1275.5 580.7 L1276 581 L1276.5 581.6 L1277 581.1 L1277.5 581.5 L1278 581.6 L1278.5 581.6 L1279 581.3 L1279.5 581 L1280 580.5 L1280.5 580.2 L1281 579.9 L1281.5 580.7 L1282 580.5 L1282.5 580.3 L1283 580.1 L1283.5 581 L1284 581.6 L1284.5 581.8 L1285 581.5 L1285.5 581.2 L1286 581.1 L1286.5 581.2 L1287 580.9 L1287.5 581.1 L1288 581.1 L1288.5 581.9 L1289 582.6 L1289.5 582.5 L1290 582 L1290.5 582.7 L1291 582.3 L1291.5 582.1 L1292 581.5 L1292.5 581.6 L1293 581.8 L1293.5 582 L1294 581.7 L1294.5 582 L1295 581.5 L1295.5 581.5 L1296 581.3 L1296.5 581.6 L1297 581.3 L1297.5 581.1 L1298 581.4 L1298.5 581.5 L1299 582 L1299.5 582.4 L1300 582.9 L1300.5 583.2 L1301 583.4 L1301.5 583.9 L1302 583.5 L1302.5 583.2 L1303 583.9 L1303.5 583.3 L1304 583.6 L1304.5 583.8 L1305 583.1 L1305.5 583.7 L1306 584.2 L1306.5 584.2 L1307 584.4 L1307.5 584.6 L1308 583.9 L1308.5 583.9 L1309 583.9 L1309.5 584.4 L1310 584.7 L1310.5 584.9 L1311 584.8 L1311.5 585.1 L1312 585.1 L1312.5 585.1 L1313 584.5 L1313.5 583.8 L1314 583.5 L1314.5 583.6 L1315 583.3 L1315.5 584.1 L1316 584.4 L1316.5 584.6 L1317 584.8 L1317.5 585 L1318 584.9 L1318.5 584.2 L1319 584.8 L1319.5 585.2 L1320 585.1 L1320.5 585.1 L1321 585.3 L1321.5 584.7 L1322 585.2 L1322.5 584.8 L1323 584.4 L1323.5 584.4 L1324 585 L1324.5 584.7 L1325 585.3 L1325.5 586 L1326 585.8 L1326.5 585.6 L1327 585.6 L1327.5 585.9 L1328 586.2 L1328.5 586.2 L1329 586.3 L1329.5 585.6 L1330 585.3 L1330.5 585.1 L1331 585.7 L1331.5 585.5 L1332 585.8 L1332.5 585.2 L1333 584.9 L1333.5 585 L1334 585.5 L1334.5 586 L1335 586.3 L1335.5 586 L1336 586.1 L1336.5 586.1 L1337 586.1 L1337.5 585.7 L1338 586.4 L1338.5 586 L1339 586.8 L1339.5 587.3 L1340 586.4 L1340.5 586.4 L1341 586.9 L1341.5 587.4 L1342 587.1 L1342.5 586.7 L1343 586.3 L1343.5 587 L1344 586.6 L1344.5 586.7 L1345 586.3 L1345.5 586.5 L1346 587.2 L1346.5 586.6 L1347 587.2 L1347.5 587.1 L1348 587.6 L1348.5 587.7 L1349 587.2 L1349.5 587.7 L1350 587.5 L1350.5 586.8 L1351 586.2 L1351.5 586.5 L1352 586.7 L1352.5 586.6 L1353 586.3 L1353.5 586.4 L1354 586.5 L1354.5 587.2 L1355 586.6 L1355.5 587.2 L1356 587.8 L1356.5 587.2 L1357 587.9 L1357.5 588.1 L1358 588.5 L1358.5 588 L1359 587.7 L1359.5 587.6 L1360 588.3 L1360.5 588.3 L1361 587.9 L1361.5 587.8 L1362 587.5 L1362.5 587.1 L1363 586.8 L1363.5 587.6 L1364 587.4 L1364.5 588.2 L1365 587.8 L1365.5 587.6 L1366 587.8 L1366.5 587.5 L1367 587.5 L1367.5 588.3 L1368 588.8 L1368.5 589.1 L1369 589 L1369.5 589.4 L1370 589.6 L1370.5 589.3 L1371 589.4 L1371.5 588.5 L1372 588.8 L1372.5 588.7 L1373 589 L1373.5 589 L1374 588.6 L1374.5 588 L1375 588.8 L1375.5 588.3 L1376 588.4 L1376.5 588.3 L1377 588.2 L1377.5 588.7 L1378 589.4 L1378.5 588.9 L1379 589.1 L1379.5 588.8 L1380 588.9 L1380.5 588.8 L1381 588.5 L1381.5 588.2 L1382 588.1 L1382.5 588.9 L1383 589 L1383.5 588.7 L1384 589.4 L1384.5 590 L1385 589.7 L1385.5 589.1 L1386 588.8 L1386.5 588.4 L1387 588.5 L1387.5 588.3 L1388 588.3 L1388.5 588.3 L1389 588.8 L1389.5 589.5 L1390 589.9 L1390.5 589.7 L1391 589.6 L1391.5 589.6 L1392 589.5 L1392.5 589.4 L1393 588.9 L1393.5 588.9 L1394 589.8 L1394.5 589.3 L1395 589.5 L1395.5 589.8 L1396 590.3 L1396.5 589.9 L1397 589.6 L1397.5 589.4 L1398 589.5 L1398.5 589.6 L1399 590.4 L1399.5 590.8 L1400 591.1 L1400.5 590.3 L1401 589.7 L1401.5 590.2 L1402 590.8 L1402.5 590.6 L1403 590.7 L1403.5 590 L1404 590 L1404.5 590.8 L1405 591.2 L1405.5 591.5 L1406 591.9 L1406.5 591.2 L1407 590.6 L1407.5 590.2 L1408 590.4 L1408.5 590.8 L1409 591.4 L1409.5 591.6 L1410 591.6 L1410.5 591.8 L1411 591.5 L1411.5 591.5 L1412 590.8 L1412.5 591.3 L1413 590.9 L1413.5 591.6 L1414 591.7 L1414.5 591.4 L1415 590.9 L1415.5 590.7 L1416 591.1 L1416.5 591.5 L1417 591 L1417.5 590.6 L1418 591 L1418.5 591.3 L1419 591.3 L1419.5 591.1 L1420 591.4 L1420.5 590.9 L1421 590.9 L1421.5 591.2 L1422 592 L1422.5 592.2 L1423 592.7 L1423.5 592.4 L1424 592 L1424.5 591.7 L1425 592.5 L1425.5 592.7 L1426 592.3 L1426.5 591.7 L1427 591.9 L1427.5 592.2 L1428 592.2 L1428.5 591.9 L1429 592.3 L1429.5 592.9 L1430 592.5 L1430.5 591.9 L1431 591.9 L1431.5 592 L1432 592.5 L1432.5 592.2 L1433 592.7 L1433.5 593.1 L1434 593 L1434.5 592.6 L1435 593.3 L1435.5 593 L1436 593.4 L1436.5 592.9 L1437 592.6 L1437.5 593.1 L1438 592.9 L1438.5 593.6 L1439 593.5 L1439.5 593 L1440 592.7 L1440.5 592.8 L1441 593.2 L1441.5 593.9 L1442 593.3 L1442.5 593.2 L1443 592.9 L1443.5 593.8 L1444 593.2 L1444.5 592.8 L1445 592.5 L1445.5 592.7 L1446 593.6 L1446.5 594.1 L1447 594.4 L1447.5 594.9 L1448 595.2 L1448.5 594.6 L1449 594 L1449.5 594.6 L1450 594.8 L1450.5 594 L1451 594.2 L1451.5 594.1 L1452 594 L1452.5 593.8 L1453 593.5 L1453.5 593.1 L1454 593.2 L1454.5 593.4 L1455 594.3 L1455.5 593.9 L1456 594.7 L1456.5 594.3 L1457 594.2 L1457.5 594.8 L1458 595.2 L1458.5 594.9 L1459 594.3 L1459.5 594.4 L1460 594.4 L1460.5 595.1 L1461 594.6 L1461.5 594.6 L1462 595.2 L1462.5 594.5 L1463 594.6 L1463.5 595.2 L1464 595.5 L1464.5 594.8 L1465 594.3 L1465.5 594 L1466 595 L1466.5 594.8 L1467 595.3 L1467.5 595.8 L1468 595.5 L1468.5 595.2 L1469 595.9 L1469.5 595.9 L1470 595.5 L1470.5 595.8 L1471 595.5 L1471.5 595.3 L1472 594.8 L1472.5 595.4 L1473 596.1 L1473.5 596.2 L1474 596.7 L1474.5 595.8 L1475 595.5 L1475.5 595.6 L1476 596.4 L1476.5 596.9 L1477 596.5 L1477.5 596.1 L1478 596 L1478.5 596.1 L1479 596.7 L1479.5 596.1 L1480 596.6 L1480.5 596.8 L1481 597.1 L1481.5 597.3 L1482 597.2 L1482.5 596.8 L1483 596.5 L1483.5 596.3 L1484 596.8 L1484.5 596.2 L1485 595.9 L1485.5 596.5 L1486 596.3 L1486.5 595.8 L1487 595.5 L1487.5 596 L1488 596 L1488.5 597 L1489 597.5 L1489.5 598 L1490 597.4 L1490.5 596.8 L1491 596.3 L1491.5 596.6 L1492 597.1 L1492.5 597 L1493 596.8 L1493.5 596.8 L1494 597.1 L1494.5 597.4 L1495 597.8 L1495.5 598.1 L1496 598.2 L1496.5 597.5 L1497 598 L1497.5 597.6 L1498 597.7 L1498.5 597.5 L1499 597.9 L1499.5 597.5 L1500 597.2 L1500.5 597.1 L1501 596.9 L1501.5 597.7 L1502 597.9 L1502.5 597.7 L1503 597.6 L1503.5 598.4 L1504 598.3 L1504.5 597.9 L1505 598.4 L1505.5 598.5 L1506 599.1 L1506.5 598.3 L1507 598.3 L1507.5 598.7 L1508 599.1 L1508.5 599.4 L1509 598.5 L1509.5 598.2 L1510 597.8 L1510.5 597.6 L1511 598.6 L1511.5 598.7 L1512 599.3 L1512.5 598.9 L1513 599.4 L1513.5 599.1 L1514 598.7 L1514.5 599.1 L1515 599.6 L1515.5 598.9 L1516 599.1 L1516.5 599.2 L1517 598.8 L1517.5 598.7 L1518 598.4 L1518.5 598.2 L1519 598.2 L1519.5 598.6 L1520 599 L1520.5 598.7 L1521 598.3 L1521.5 598.4 L1522 598.9 L1522.5 598.7 L1523 598.7 L1523.5 598.5 L1524 631 L1524.5 631.1 L1525 630.6 L1525.5 630.3 L1526 630.6 L1526.5 630.9 L1527 631.3 L1527.5 630.8 L1528 630.6 L1528.5 631.2 L1529 631.1 L1529.5 631 L1530 630.9 L1530.5 631.7 L1531 631.4 L1531.5 631.6 L1532 631.4 L1532.5 631.4 L1533 631.9 L1533.5 632.5 L1534 632 L1534.5 631.5 L1535 631.9 L1535.5 631.4 L1536 631 L1536.5 631.8 L1537 631.7 L1537.5 632.2 L1538 632 L1538.5 632.4 L1539 632.2 L1539.5 631.7 L1540 631.2 L1540.5 631.6 L1541 631.9 L1541.5 632.5 L1542 631.8 L1542.5 632.1 L1543 632 L1543.5 632.1 L1544 631.7 L1544.5 631.6 L1545 631.9 L1545.5 632.6 L1546 632 L1546.5 632.1 L1547 632.6 L1547.5 633.1 L1548 632.4 L1548.5 632 L1549 632.7 L1549.5 633.2 L1550 632.9 L1550.5 632.2 L1551 632.9 L1551.5 632.6 L1552 633.1 L1552.5 633.1 L1553 633.3 L1553.5 632.7 L1554 633 L1554.5 632.6 L1555 632.5 L1555.5 633.1 L1556 633.4 L1556.5 632.8 L1557 632.5 L1557.5 632.5 L1558 632.7 L1558.5 632.7 L1559 632.3 L1559.5 632.3 L1560 632.9 L1560.5 633.5 L1561 632.8 L1561.5 633 L1562 633.4 L1562.5 632.8 L1563 633.5 L1563.5 632.9 L1564 633.3 L1564.5 633.4 L1565 633.6 L1565.5 633.4 L1566 633.4 L1566.5 633.6 L1567 633.6 L1567.5 633.8 L1568 633.8 L1568.5 633.7 L1569 633.2 L1569.5 633.6 L1570 633.8 L1570.5 633.5 L1571 634.1 L1571.5 634.5 L1572 634.3 L1572.5 633.9 L1573 634 L1573.5 633.6 L1574 633.5 L1574.5 633.8 L1575 633.5 L1575.5 633.8 L1576 634.1 L1576.5 633.7 L1577 634.3 L1577.5 633.9 L1578 634.5 L1578.5 635 L1579 635 L1579.5 634.4 L1580 634.6 L1580.5 634.6 L1581 635.3 L1581.5 634.8 L1582 635.4 L1582.5 635.9 L1583 635.9 L1583.5 636.1 L1584 635.4 L1584.5 636 L1585 635.7 L1585.5 636.2 L1586 636.5 L1586.5 635.7 L1587 636 L1587.5 636.4 L1588 635.6 L1588.5 635.4 L1589 635.9 L1589.5 635.4 L1590 636.1 L1590.5 635.7 L1591 636.1 L1591.5 635.4 L1592 635.5 L1592.5 636 L1593 635.4 L1593.5 635.1 L1594 635.2 L1594.5 635 L1595 634.5 L1595.5 634.4 L1596 634.3 L1596.5 635.2 L1597 635.4 L1597.5 635.8 L1598 635 L1598.5 635.4 L1599 634.7 L1599.5 634.8 L1600 635 L1600.5 634.7 L1601 635.2 L1601.5 635.1 L1602 635 L1602.5 635.3 L1603 634.5 L1603.5 635.2 L1604 635 L1604.5 634.7 L1605 634.9 L1605.5 634.4 L1606 635 L1606.5 634.8 L1607 634.4 L1607.5 634.6 L1608 634.3 L1608.5 633.8 L1609 634.2 L1609.5 633.5 L1610 634.1 L1610.5 633.7 L1611 634 L1611.5 634.5 L1612 634.4 L1612.5 634.3 L1613 633.9 L1613.5 633.2 L1614 632.8 L1614.5 632.7 L1615 633.2 L1615.5 633.3 L1616 633.4 L1616.5 634 L1617 633.3 L1617.5 633 L1618 633.4 L1618.5 632.8 L1619 632.4 L1619.5 632.6 L1620 632.3 L1620.5 632.5 L1621 632.4 L1621.5 632.8 L1622 633.1 L1622.5 632.7 L1623 633 L1623.5 633 L1624 633 L1624.5 633 L1625 633 L1625.5 633 L1626 633 L1626.5 633 L1627 633 L1627.5 633 L1628 633 L1628.5 633 L1629 633 L1629.5 633 L1630 633 L1630.5 633 L1631 633 L1631.5 633 L1632 633 L1632.5 633 L1633 611 L1633.5 611 L1634 611 L1634 735.5 L1081 735.5Z" fill="#33a02c" />
<path d="M1086.2 570.4 L1087.8 570.4 L1087.3 632.1 L1086.7 632.1Z M1088.3 570.4 L1089.3 570.4 L1089 581.7 L1088.6 581.7Z M1091.4 570.5 L1093 570.5 L1092.5 639.4 L1091.9 639.4Z M1093.5 570.5 L1094.5 570.5 L1094.1 583 L1093.8 583Z M1096.5 570.5 L1098.1 570.5 L1097.6 632.7 L1097.1 632.7Z M1101.7 570.5 L1103.3 570.5 L1102.8 612.7 L1102.2 612.7Z M1103.8 570.5 L1104.8 570.5 L1104.5 581.7 L1104.1 581.7Z M1106.9 570.6 L1108.5 570.6 L1108 638.1 L1107.4 638.1Z M1112 570.6 L1113.6 570.6 L1113.1 630.7 L1112.6 630.7Z M1114.2 570.6 L1115.2 570.6 L1114.8 596.5 L1114.5 596.5Z M1117.2 570.6 L1118.8 570.6 L1118.3 635.4 L1117.7 635.4Z M1119.3 570.6 L1120.3 570.6 L1120 581.5 L1119.6 581.5Z M1122.4 570.7 L1124 570.7 L1123.5 599.8 L1122.9 599.8Z M1124.5 570.7 L1125.5 570.7 L1125.2 585.3 L1124.8 585.3Z M1127.6 570.7 L1129.2 570.7 L1128.6 602.8 L1128.1 602.8Z M1129.7 570.7 L1130.7 570.7 L1130.3 591.3 L1130 591.3Z M1132.7 570.7 L1134.3 570.7 L1133.8 639 L1133.2 639Z M1134.8 570.7 L1135.8 570.7 L1135.5 584.7 L1135.2 584.7Z M1137.9 570.7 L1139.5 570.7 L1139 630.6 L1138.4 630.6Z M1143.1 570.8 L1144.7 570.8 L1144.1 624 L1143.6 624Z M1145.2 570.8 L1146.2 570.8 L1145.8 586.5 L1145.5 586.5Z M1148.2 570.8 L1149.8 570.8 L1149.3 614.5 L1148.8 614.5Z M1153.4 570.8 L1155 570.8 L1154.5 637.8 L1153.9 637.8Z M1158.6 570.9 L1160.2 570.9 L1159.7 598.5 L1159.1 598.5Z M1160.7 570.9 L1161.7 570.9 L1161.4 596.1 L1161 596.1Z M1163.8 570.9 L1165.3 570.9 L1164.8 601.4 L1164.3 601.4Z M1165.9 570.9 L1166.9 570.9 L1166.5 585.1 L1166.2 585.1Z M1168.9 570.9 L1170.5 570.9 L1170 597.6 L1169.4 597.6Z M1174.1 571 L1175.7 571 L1175.2 598.2 L1174.6 598.2Z M1179.3 571 L1180.9 571 L1180.3 639 L1179.8 639Z M1181.4 571 L1182.4 571 L1182 582.3 L1181.7 582.3Z M1184.4 571 L1186 571 L1185.5 635.9 L1185 635.9Z M1186.5 571 L1187.5 571 L1187.2 594.1 L1186.9 594.1Z M1189.6 571.1 L1191.2 571.1 L1190.7 633.3 L1190.1 633.3Z M1191.7 571.1 L1192.7 571.1 L1192.4 596.4 L1192 596.4Z M1194.8 571.1 L1196.4 571.1 L1195.8 603.2 L1195.3 603.2Z M1199.9 571.1 L1201.5 571.1 L1201 604.6 L1200.5 604.6Z M1202 571.1 L1203 571.1 L1202.7 593.4 L1202.4 593.4Z M1205.1 571.1 L1206.7 571.1 L1206.2 670.4 L1205.6 670.4Z M1210.3 571.2 L1211.9 571.2 L1211.4 671.1 L1210.8 671.1Z M1215.5 571.2 L1217 571.2 L1216.5 639.4 L1216 639.4Z M1220.6 571.2 L1222.2 571.2 L1221.7 629.3 L1221.1 629.3Z M1225.8 571.3 L1227.4 571.3 L1226.9 631.6 L1226.3 631.6Z M1227.9 571.3 L1228.9 571.3 L1228.6 596.8 L1228.2 596.8Z M1231 571.5 L1232.6 571.5 L1232 670.2 L1231.5 670.2Z M1233.1 571.9 L1234.1 571.9 L1233.7 591.5 L1233.4 591.5Z M1238.5 573.1 L1240.5 573.1 L1239.8 598 L1239.2 598Z M1278.5 575.1 L1280.3 575.1 L1279.7 596.5 L1279.1 596.5Z M1348.1 578.9 L1350.1 578.9 L1349.4 606 L1348.8 606Z M1365.1 579.8 L1367.7 579.8 L1366.9 645 L1365.9 645Z M1375.7 580.4 L1377.5 580.4 L1376.9 610 L1376.3 610Z M1449.5 586 L1451.9 586 L1451.1 671 L1450.3 671Z M1462.5 587 L1464.7 587 L1464 652 L1463.2 652Z M1466.2 587.4 L1468.4 587.4 L1467.7 652 L1466.9 652Z M1484.1 588.9 L1487.3 588.9 L1486.3 604 L1485.1 604Z M1501 590.2 L1503 590.2 L1502.3 630 L1501.7 630Z M1517.3 591.5 L1519.5 591.5 L1518.8 652 L1518 652Z M1311.4 576.9 L1312.6 576.9 L1312.2 590 L1311.8 590Z M1419.4 583.4 L1420.6 583.4 L1420.2 596 L1419.8 596Z M1299.5 576.2 L1300.5 576.2 L1300.2 586 L1299.8 586Z M1254.4 573.9 L1255.6 573.9 L1255.2 586 L1254.8 586Z M1085.9 570 L1089.6 570 L1089.4 574 L1087.9 578.1 L1086.6 578.1 L1086.2 574Z M1091.1 570 L1094.8 570 L1094.6 574.7 L1093.1 579.4 L1091.8 579.4 L1091.4 574.7Z M1096.3 570 L1099.2 570 L1099 575.9 L1098.2 583.1 L1096.9 583.1 L1096.6 575.9Z M1101.7 570 L1105.2 570 L1105 573.7 L1103.4 580.7 L1102.1 580.7 L1102 573.7Z M1106.7 570 L1110.3 570 L1110.1 576.4 L1108.6 584.8 L1107.3 584.8 L1107 576.4Z M1111.8 570 L1115.4 570 L1115.2 576.7 L1113.8 585.4 L1112.5 585.4 L1112.1 576.7Z M1117 570 L1120 570 L1119.8 573.9 L1118.9 578.1 L1117.6 578.1 L1117.3 573.9Z M1122.4 570 L1126 570 L1125.8 575.7 L1124.1 583.8 L1122.8 583.8 L1122.7 575.7Z M1127.5 570 L1130.6 570 L1130.4 573.8 L1129.3 578.3 L1128 578.3 L1127.8 573.8Z M1132.7 570 L1135.8 570 L1135.6 574.6 L1134.4 580.7 L1133.1 580.7 L1133 574.6Z M1137.6 570 L1140.7 570 L1140.5 574.5 L1139.6 582.1 L1138.3 582.1 L1137.9 574.5Z M1142.9 570 L1146.1 570 L1145.9 576.9 L1144.8 583.4 L1143.5 583.4 L1143.2 576.9Z M1148.3 570 L1151.7 570 L1151.5 573.6 L1149.9 579.7 L1148.6 579.7 L1148.6 573.6Z M1153.3 570 L1156.8 570 L1156.6 574.7 L1155.1 582.2 L1153.8 582.2 L1153.6 574.7Z M1158.5 570 L1161.6 570 L1161.4 576.5 L1160.3 581 L1159 581 L1158.8 576.5Z M1163.8 570 L1166.8 570 L1166.6 573.5 L1165.5 578.5 L1164.2 578.5 L1164.1 573.5Z M1168.9 570 L1172.6 570 L1172.4 573.5 L1170.6 580 L1169.3 580 L1169.2 573.5Z M1174 570 L1177.5 570 L1177.3 574.1 L1175.8 580.6 L1174.5 580.6 L1174.3 574.1Z M1179.1 570 L1182.7 570 L1182.5 574.4 L1181 583.1 L1179.7 583.1 L1179.4 574.4Z M1184.2 570 L1187.3 570 L1187.1 575.9 L1186.1 582.4 L1184.8 582.4 L1184.5 575.9Z M1189.3 570 L1192.8 570 L1192.6 573.8 L1191.3 581.7 L1190 581.7 L1189.6 573.8Z M1194.7 570 L1198.3 570 L1198.1 575.7 L1196.5 581.5 L1195.2 581.5 L1195 575.7Z M1199.8 570 L1203 570 L1202.8 576.6 L1201.6 581 L1200.3 581 L1200.1 576.6Z M1205.2 570 L1208.1 570 L1207.9 574.2 L1206.8 579.5 L1205.5 579.5 L1205.5 574.2Z M1210.3 570 L1213.6 570 L1213.4 574.8 L1212 583.2 L1210.7 583.2 L1210.6 574.8Z M1215.2 570 L1218.5 570 L1218.3 575.4 L1217.2 583.1 L1215.9 583.1 L1215.5 575.4Z M1220.6 570 L1224 570 L1223.8 574.7 L1222.3 580.4 L1221 580.4 L1220.9 574.7Z M1225.6 570 L1229.1 570 L1228.9 575.8 L1227.5 583.5 L1226.2 583.5 L1225.9 575.8Z M1230.7 570 L1234 570 L1233.8 576.2 L1232.7 583.1 L1231.4 583.1 L1231 576.2Z M1623 602 L1632.8 602 L1631.2 640 L1629.6 700 L1628.6 713.4 L1627.4 713 L1626.4 690 L1625 650 L1623.4 630Z" fill="#b2df8a"/>
<path d="M1083.9 569.4 L1084.3 558.9 L1085.1 544.9 L1085.1 473 L1085.7 473 L1085.7 544.9 L1086.5 554.9 L1086.9 569.4Z M1089.2 569.5 L1089.6 556.6 L1090.3 542.6 L1090.3 487.5 L1090.9 487.5 L1090.9 542.6 L1091.5 552.6 L1091.9 569.5Z M1094 569.5 L1094.4 556 L1095.4 542 L1095.4 488.4 L1096.1 488.4 L1096.1 542 L1097.1 552 L1097.5 569.5Z M1099.5 569.5 L1099.9 546.4 L1100.7 532.4 L1100.7 486.1 L1101.1 486.1 L1101.1 532.4 L1101.9 542.4 L1102.3 569.5Z M1104.5 569.6 L1104.9 546.5 L1105.8 532.5 L1105.8 486.2 L1106.4 486.2 L1106.4 532.5 L1107.2 542.5 L1107.6 569.6Z M1109.6 569.6 L1110 556.2 L1110.8 542.2 L1110.8 489.4 L1111.7 489.4 L1111.7 542.2 L1112.5 552.2 L1112.9 569.6Z M1115.2 569.6 L1115.6 559.4 L1116.1 545.4 L1116.1 481 L1116.8 481 L1116.8 545.4 L1117.3 555.4 L1117.7 569.6Z M1120.2 569.6 L1120.6 543.6 L1121.2 529.6 L1121.2 486.3 L1122 486.3 L1122 529.6 L1122.6 539.6 L1123 569.6Z M1125.3 569.7 L1125.7 547 L1126.4 533 L1126.4 488.9 L1127.1 488.9 L1127.1 533 L1127.8 543 L1128.2 569.7Z M1130.7 569.7 L1131.1 553.9 L1131.5 539.9 L1131.5 487.4 L1132.4 487.4 L1132.4 539.9 L1132.8 549.9 L1133.2 569.7Z M1135.8 569.7 L1136.2 558.4 L1136.7 544.4 L1136.7 485.5 L1137.5 485.5 L1137.5 544.4 L1138 554.4 L1138.4 569.7Z M1140.7 569.8 L1141.1 554.7 L1142 540.7 L1142 488.9 L1142.5 488.9 L1142.5 540.7 L1143.4 550.7 L1143.8 569.8Z M1145.9 569.8 L1146.3 551.2 L1147.1 537.2 L1147.1 488.2 L1147.8 488.2 L1147.8 537.2 L1148.6 547.2 L1149 569.8Z M1151 569.8 L1151.4 559.1 L1152.3 545.1 L1152.3 486.5 L1152.9 486.5 L1152.9 545.1 L1153.8 555.1 L1154.2 569.8Z M1156.2 569.9 L1156.6 554.3 L1157.4 540.3 L1157.4 488.6 L1158.1 488.6 L1158.1 540.3 L1159 550.3 L1159.4 569.9Z M1161.5 569.9 L1161.9 543.4 L1162.5 529.4 L1162.5 488.9 L1163.4 488.9 L1163.4 529.4 L1164 539.4 L1164.4 569.9Z M1166.6 569.9 L1167 558.7 L1167.8 544.7 L1167.8 487.6 L1168.5 487.6 L1168.5 544.7 L1169.3 554.7 L1169.7 569.9Z M1171.9 570 L1172.3 551.8 L1173.1 537.8 L1173.1 488.6 L1173.5 488.6 L1173.5 537.8 L1174.3 547.8 L1174.7 570Z M1177 570 L1177.4 545.9 L1178.2 531.9 L1178.2 485.7 L1178.7 485.7 L1178.7 531.9 L1179.6 541.9 L1180 570Z M1182.4 570 L1182.8 553.3 L1183.4 539.3 L1183.4 487.6 L1183.9 487.6 L1183.9 539.3 L1184.5 549.3 L1184.9 570Z M1187.3 570 L1187.7 554.5 L1188.5 540.5 L1188.5 488.4 L1189.1 488.4 L1189.1 540.5 L1189.9 550.5 L1190.3 570Z M1192.5 570.1 L1192.9 560.1 L1193.7 546.1 L1193.7 487.6 L1194.2 487.6 L1194.2 546.1 L1195 556.1 L1195.4 570.1Z M1197.8 570.1 L1198.2 552.2 L1198.9 538.2 L1198.9 489.5 L1199.4 489.5 L1199.4 538.2 L1200 548.2 L1200.4 570.1Z M1202.8 570.1 L1203.2 554.5 L1204 540.5 L1204 488.4 L1204.7 488.4 L1204.7 540.5 L1205.4 550.5 L1205.8 570.1Z M1208.1 570.2 L1208.5 543.2 L1209.1 529.2 L1209.1 486.6 L1209.9 486.6 L1209.9 529.2 L1210.5 539.2 L1210.9 570.2Z M1213.1 570.2 L1213.5 555.1 L1214.3 541.1 L1214.3 489.2 L1215 489.2 L1215 541.1 L1215.8 551.1 L1216.2 570.2Z M1218.5 570.2 L1218.9 550.2 L1219.5 536.2 L1219.5 485.9 L1220.1 485.9 L1220.1 536.2 L1220.8 546.2 L1221.2 570.2Z M1223.3 570.3 L1223.7 551.3 L1224.7 537.3 L1224.7 489.5 L1225.3 489.5 L1225.3 537.3 L1226.3 547.3 L1226.7 570.3Z M1228.5 570.3 L1228.9 557.6 L1229.9 543.6 L1229.9 486 L1230.4 486 L1230.4 543.6 L1231.4 553.6 L1231.8 570.3Z M1238.5 573.1 L1239.2 561 L1239.8 561 L1240.5 573.1Z M1277.6 575.1 L1278.3 565.7 L1278.7 565.7 L1279.4 575.1Z M1360.5 579.6 L1361.3 529.2 L1362.1 529.2 L1362.9 579.6Z M1363 579.7 L1363.8 534.8 L1364.4 534.8 L1365.2 579.7Z M1375.7 580.4 L1376.4 570.3 L1376.8 570.3 L1377.5 580.4Z M1462 587 L1462.8 542.3 L1463.6 542.3 L1464.4 587Z M1464.4 587.2 L1465.2 553.5 L1465.8 553.5 L1466.6 587.2Z M1500.6 590.2 L1501.3 562 L1501.9 562 L1502.6 590.2Z M1514.2 591.3 L1515 519.8 L1515.8 519.8 L1516.6 591.3Z M1517.9 591.6 L1518.7 556.3 L1519.3 556.3 L1520.1 591.6Z" fill="#b22222"/>
<rect x="1081.0" y="651.6" width="553.0" height="2" fill="#333333"/>
<rect x="1081.0" y="568.4" width="553.0" height="1.9" fill="#333333"/>
<rect x="1081.0" y="484.4" width="553.0" height="1.9" fill="#333333"/>
<rect x="1199.7" y="729.3" width="1.6" height="6.2" fill="#333333"/>
<rect x="1332.4" y="729.3" width="1.6" height="6.2" fill="#333333"/>
<rect x="1465.1000000000001" y="729.3" width="1.6" height="6.2" fill="#333333"/>
<rect x="1597.8" y="729.3" width="1.6" height="6.2" fill="#333333"/>
<path d="M1081 762.8 L1634.2 762.8 L1634 800 L1633.5 800 L1633 800 L1632.5 800 L1632 800 L1631.5 800 L1631 800 L1630.5 800 L1630 800 L1629.5 800 L1629 784 L1628.5 784 L1628 784 L1627.5 784 L1627 784 L1626.5 784 L1626 784 L1625.5 865.6 L1625 865.6 L1624.5 865.2 L1624 864.9 L1623.5 864.2 L1623 864.6 L1622.5 865 L1622 864.5 L1621.5 864.7 L1621 864.1 L1620.5 864.6 L1620 865.1 L1619.5 864.4 L1619 865 L1618.5 864.1 L1618 864.3 L1617.5 863.6 L1617 863.8 L1616.5 864.1 L1616 864.4 L1615.5 864.7 L1615 864.4 L1614.5 864.9 L1614 865.2 L1613.5 865.6 L1613 865.2 L1612.5 864.6 L1612 864.3 L1611.5 864.2 L1611 864.9 L1610.5 865.2 L1610 864.7 L1609.5 864.5 L1609 863.7 L1608.5 864 L1608 864.5 L1607.5 864.3 L1607 865.1 L1606.5 864.5 L1606 864.2 L1605.5 864.1 L1605 864.2 L1604.5 864.2 L1604 864.4 L1603.5 864.8 L1603 865 L1602.5 864.7 L1602 864.3 L1601.5 864.6 L1601 864.5 L1600.5 863.9 L1600 863.1 L1599.5 863.4 L1599 863.6 L1598.5 864.3 L1598 863.9 L1597.5 864 L1597 863.7 L1596.5 864.2 L1596 864.1 L1595.5 864.2 L1595 864 L1594.5 864.1 L1594 864.1 L1593.5 864.3 L1593 863.9 L1592.5 863.6 L1592 863.4 L1591.5 863.2 L1591 862.2 L1590.5 862.2 L1590 862.6 L1589.5 862.7 L1589 863.4 L1588.5 863.6 L1588 863.2 L1587.5 862.8 L1587 863.6 L1586.5 863.4 L1586 863.2 L1585.5 863 L1585 863.3 L1584.5 863.7 L1584 864.2 L1583.5 864.1 L1583 864.1 L1582.5 863.5 L1582 863.5 L1581.5 863.9 L1581 863.9 L1580.5 864.3 L1580 863.9 L1579.5 864.4 L1579 864 L1578.5 863.9 L1578 864 L1577.5 864 L1577 864.6 L1576.5 864.3 L1576 864.4 L1575.5 864.5 L1575 864.9 L1574.5 864.4 L1574 864.8 L1573.5 864.8 L1573 864.5 L1572.5 865.4 L1572 865 L1571.5 865.3 L1571 865.6 L1570.5 865.1 L1570 865.6 L1569.5 865.2 L1569 864.9 L1568.5 864.6 L1568 865.4 L1567.5 865.3 L1567 865.1 L1566.5 865.9 L1566 865.4 L1565.5 865.6 L1565 866.1 L1564.5 865.8 L1564 865.7 L1563.5 865.7 L1563 865.9 L1562.5 865.3 L1562 866.2 L1561.5 865.7 L1561 865.6 L1560.5 865.5 L1560 865.2 L1559.5 865.5 L1559 865.2 L1558.5 865.6 L1558 865.4 L1557.5 865.7 L1557 866.1 L1556.5 866.5 L1556 866.7 L1555.5 866.3 L1555 866.6 L1554.5 866.4 L1554 866.5 L1553.5 866.4 L1553 867.2 L1552.5 867.1 L1552 867.1 L1551.5 866.8 L1551 866.9 L1550.5 866.7 L1550 866.7 L1549.5 866.2 L1549 866.8 L1548.5 866.5 L1548 865.7 L1547.5 866.1 L1547 866.2 L1546.5 865.6 L1546 865.6 L1545.5 865.8 L1545 866.3 L1544.5 866.7 L1544 866.6 L1543.5 865.7 L1543 866.2 L1542.5 867 L1542 867 L1541.5 866.6 L1541 867.4 L1540.5 867.3 L1540 867 L1539.5 866.5 L1539 867.4 L1538.5 867.2 L1538 866.6 L1537.5 866.9 L1537 866.7 L1536.5 866.4 L1536 866.3 L1535.5 866.1 L1535 866.1 L1534.5 866.3 L1534 866.5 L1533.5 865.8 L1533 866.2 L1532.5 866.5 L1532 866.4 L1531.5 866.7 L1531 866.8 L1530.5 867.3 L1530 866.8 L1529.5 867.1 L1529 866.5 L1528.5 867 L1528 866.9 L1527.5 867.4 L1527 867.7 L1526.5 867.5 L1526 867.2 L1525.5 867.1 L1525 867.5 L1524.5 866.8 L1524 867.1 L1523.5 867.1 L1523 800 L1522.5 800 L1522 800 L1521.5 800 L1521 800 L1520.5 800 L1520 800 L1519.5 800 L1519 800 L1518.5 800 L1518 800 L1517.5 800 L1517 800 L1516.5 800 L1516 800 L1515.5 800 L1515 800 L1514.5 800 L1514 800 L1513.5 800 L1513 800 L1512.5 800 L1512 800 L1511.5 800 L1511 800 L1510.5 800 L1510 800 L1509.5 800 L1509 800 L1508.5 800 L1508 800 L1507.5 800 L1507 800 L1506.5 800 L1506 800 L1505.5 800 L1505 800 L1504.5 800 L1504 800 L1503.5 800 L1503 800 L1502.5 800 L1502 800 L1501.5 800 L1501 800 L1500.5 800 L1500 800 L1499.5 800 L1499 800 L1498.5 800 L1498 800 L1497.5 800 L1497 800 L1496.5 800 L1496 800 L1495.5 800 L1495 800 L1494.5 800 L1494 800 L1493.5 800 L1493 800 L1492.5 800 L1492 800 L1491.5 800 L1491 800 L1490.5 800 L1490 800 L1489.5 800 L1489 800 L1488.5 800 L1488 800 L1487.5 800 L1487 800 L1486.5 800 L1486 800 L1485.5 800 L1485 800 L1484.5 800 L1484 800 L1483.5 800 L1483 800 L1482.5 800 L1482 800 L1481.5 800 L1481 800 L1480.5 800 L1480 800 L1479.5 800 L1479 800 L1478.5 800 L1478 800 L1477.5 800 L1477 800 L1476.5 800 L1476 800 L1475.5 800 L1475 800 L1474.5 800 L1474 800 L1473.5 800 L1473 800 L1472.5 800 L1472 800 L1471.5 800 L1471 800 L1470.5 800 L1470 800 L1469.5 800 L1469 800 L1468.5 800 L1468 800 L1467.5 800 L1467 800 L1466.5 800 L1466 800 L1465.5 800 L1465 800 L1464.5 800 L1464 800 L1463.5 800 L1463 800 L1462.5 800 L1462 800 L1461.5 800 L1461 800 L1460.5 800 L1460 800 L1459.5 800 L1459 800 L1458.5 800 L1458 800 L1457.5 800 L1457 800 L1456.5 800 L1456 800 L1455.5 800 L1455 800 L1454.5 800 L1454 800 L1453.5 800 L1453 800 L1452.5 800 L1452 800 L1451.5 800 L1451 800 L1450.5 800 L1450 800 L1449.5 800 L1449 800 L1448.5 800 L1448 800 L1447.5 800 L1447 800 L1446.5 800 L1446 800 L1445.5 800 L1445 800 L1444.5 800 L1444 800 L1443.5 800 L1443 800 L1442.5 800 L1442 800 L1441.5 800 L1441 800 L1440.5 800 L1440 800 L1439.5 800 L1439 800 L1438.5 800 L1438 800 L1437.5 800 L1437 800 L1436.5 800 L1436 800 L1435.5 800 L1435 800 L1434.5 800 L1434 800 L1433.5 800 L1433 800 L1432.5 800 L1432 800 L1431.5 800 L1431 800 L1430.5 800 L1430 800 L1429.5 800 L1429 800 L1428.5 800 L1428 800 L1427.5 800 L1427 800 L1426.5 800 L1426 800 L1425.5 800 L1425 800 L1424.5 800 L1424 800 L1423.5 800 L1423 800 L1422.5 800 L1422 800 L1421.5 800 L1421 800 L1420.5 800 L1420 800 L1419.5 800 L1419 800 L1418.5 800 L1418 800 L1417.5 800 L1417 800 L1416.5 800 L1416 800 L1415.5 800 L1415 800 L1414.5 800 L1414 800 L1413.5 800 L1413 800 L1412.5 800 L1412 800 L1411.5 800 L1411 800 L1410.5 800 L1410 800 L1409.5 800 L1409 800 L1408.5 800 L1408 800 L1407.5 800 L1407 800 L1406.5 800 L1406 800 L1405.5 800 L1405 800 L1404.5 800 L1404 800 L1403.5 800 L1403 800 L1402.5 800 L1402 800 L1401.5 800 L1401 800 L1400.5 800 L1400 800 L1399.5 800 L1399 800 L1398.5 800 L1398 800 L1397.5 800 L1397 800 L1396.5 800 L1396 800 L1395.5 800 L1395 800 L1394.5 800 L1394 800 L1393.5 800 L1393 800 L1392.5 800 L1392 800 L1391.5 800 L1391 800 L1390.5 800 L1390 800 L1389.5 800 L1389 800 L1388.5 800 L1388 800 L1387.5 800 L1387 800 L1386.5 800 L1386 800 L1385.5 800 L1385 800 L1384.5 800 L1384 800 L1383.5 800 L1383 800 L1382.5 800 L1382 800 L1381.5 800 L1381 800 L1380.5 800 L1380 800 L1379.5 800 L1379 800 L1378.5 800 L1378 800 L1377.5 800 L1377 800 L1376.5 800 L1376 800 L1375.5 800 L1375 800 L1374.5 800 L1374 800 L1373.5 800 L1373 800 L1372.5 800 L1372 800 L1371.5 800 L1371 800 L1370.5 800 L1370 800 L1369.5 800 L1369 800 L1368.5 800 L1368 800 L1367.5 800 L1367 800 L1366.5 800 L1366 800 L1365.5 800 L1365 800 L1364.5 800 L1364 800 L1363.5 800 L1363 800 L1362.5 800 L1362 800 L1361.5 800 L1361 800 L1360.5 800 L1360 800 L1359.5 800 L1359 800 L1358.5 800 L1358 800 L1357.5 800 L1357 800 L1356.5 800 L1356 800 L1355.5 800 L1355 800 L1354.5 800 L1354 800 L1353.5 800 L1353 800 L1352.5 800 L1352 800 L1351.5 800 L1351 800 L1350.5 800 L1350 800 L1349.5 800 L1349 800 L1348.5 800 L1348 800 L1347.5 800 L1347 800 L1346.5 800 L1346 800 L1345.5 800 L1345 800 L1344.5 800 L1344 800 L1343.5 800 L1343 800 L1342.5 800 L1342 800 L1341.5 800 L1341 800 L1340.5 800 L1340 800 L1339.5 800 L1339 800 L1338.5 800 L1338 800 L1337.5 800 L1337 800 L1336.5 800 L1336 800 L1335.5 800 L1335 800 L1334.5 800 L1334 800 L1333.5 800 L1333 800 L1332.5 800 L1332 800 L1331.5 800 L1331 800 L1330.5 800 L1330 800 L1329.5 800 L1329 800 L1328.5 800 L1328 800 L1327.5 800 L1327 800 L1326.5 800 L1326 800 L1325.5 800 L1325 800 L1324.5 800 L1324 800 L1323.5 800 L1323 800 L1322.5 800 L1322 800 L1321.5 800 L1321 800 L1320.5 800 L1320 800 L1319.5 800 L1319 800 L1318.5 800 L1318 800 L1317.5 800 L1317 800 L1316.5 800 L1316 800 L1315.5 800 L1315 800 L1314.5 800 L1314 800 L1313.5 800 L1313 800 L1312.5 800 L1312 800 L1311.5 800 L1311 800 L1310.5 800 L1310 800 L1309.5 800 L1309 800 L1308.5 800 L1308 800 L1307.5 800 L1307 800 L1306.5 800 L1306 800 L1305.5 800 L1305 800 L1304.5 800 L1304 800 L1303.5 800 L1303 800 L1302.5 800 L1302 800 L1301.5 800 L1301 800 L1300.5 800 L1300 800 L1299.5 800 L1299 800 L1298.5 800 L1298 800 L1297.5 800 L1297 800 L1296.5 800 L1296 800 L1295.5 800 L1295 800 L1294.5 800 L1294 800 L1293.5 800 L1293 800 L1292.5 800 L1292 800 L1291.5 800 L1291 800 L1290.5 800 L1290 800 L1289.5 800 L1289 800 L1288.5 800 L1288 800 L1287.5 800 L1287 800 L1286.5 800 L1286 800 L1285.5 800 L1285 800 L1284.5 800 L1284 800 L1283.5 800 L1283 800 L1282.5 800 L1282 800 L1281.5 800 L1281 800 L1280.5 800 L1280 800 L1279.5 800 L1279 800 L1278.5 800 L1278 800 L1277.5 800 L1277 800 L1276.5 800 L1276 800 L1275.5 800 L1275 800 L1274.5 800 L1274 800 L1273.5 800 L1273 800 L1272.5 800 L1272 800 L1271.5 800 L1271 800 L1270.5 800 L1270 800 L1269.5 800 L1269 800 L1268.5 800 L1268 800 L1267.5 800 L1267 800 L1266.5 800 L1266 800 L1265.5 800 L1265 800 L1264.5 800 L1264 800 L1263.5 800 L1263 800 L1262.5 800 L1262 800 L1261.5 800 L1261 800 L1260.5 800 L1260 800 L1259.5 800 L1259 800 L1258.5 800 L1258 800 L1257.5 800 L1257 800 L1256.5 800 L1256 800 L1255.5 800 L1255 800 L1254.5 800 L1254 800 L1253.5 800 L1253 800 L1252.5 800 L1252 800 L1251.5 800 L1251 800 L1250.5 800 L1250 800 L1249.5 800 L1249 800 L1248.5 800 L1248 800 L1247.5 800 L1247 800 L1246.5 800 L1246 800 L1245.5 800 L1245 800 L1244.5 800 L1244 800 L1243.5 800 L1243 800 L1242.5 800 L1242 800 L1241.5 800 L1241 800 L1240.5 800 L1240 800 L1239.5 800 L1239 800 L1238.5 800 L1238 800 L1237.5 800 L1237 800 L1236.5 800 L1236 800 L1235.5 800 L1235 800 L1234.5 800 L1234 800 L1233.5 800 L1233 800 L1232.5 800 L1232 800 L1231.5 800 L1231 926.5 L1230.5 926.5 L1230 926.5 L1229.5 926.5 L1229 926.5 L1228.5 926.5 L1228 926.5 L1227.5 926.5 L1227 926.5 L1226.5 926.5 L1226 926.5 L1225.5 926.5 L1225 926.5 L1224.5 926.5 L1224 926.5 L1223.5 926.5 L1223 926.5 L1222.5 926.5 L1222 926.5 L1221.5 926.5 L1221 926.5 L1220.5 926.5 L1220 926.5 L1219.5 926.5 L1219 926.5 L1218.5 926.5 L1218 926.5 L1217.5 926.5 L1217 926.5 L1216.5 926.5 L1216 926.5 L1215.5 926.5 L1215 926.5 L1214.5 926.5 L1214 926.5 L1213.5 926.5 L1213 926.5 L1212.5 926.5 L1212 926.5 L1211.5 926.5 L1211 926.5 L1210.5 926.5 L1210 926.5 L1209.5 926.5 L1209 926.5 L1208.5 926.5 L1208 926.5 L1207.5 926.5 L1207 926.5 L1206.5 926.5 L1206 926.5 L1205.5 926.5 L1205 926.5 L1204.5 926.5 L1204 926.5 L1203.5 926.5 L1203 926.5 L1202.5 926.5 L1202 926.5 L1201.5 926.5 L1201 926.5 L1200.5 926.5 L1200 926.5 L1199.5 926.5 L1199 926.5 L1198.5 926.5 L1198 926.5 L1197.5 926.5 L1197 926.5 L1196.5 926.5 L1196 926.5 L1195.5 926.5 L1195 926.5 L1194.5 926.5 L1194 926.5 L1193.5 926.5 L1193 926.5 L1192.5 926.5 L1192 926.5 L1191.5 926.5 L1191 926.5 L1190.5 926.5 L1190 926.5 L1189.5 926.5 L1189 926.5 L1188.5 926.5 L1188 926.5 L1187.5 926.5 L1187 926.5 L1186.5 926.5 L1186 926.5 L1185.5 926.5 L1185 926.5 L1184.5 926.5 L1184 926.5 L1183.5 926.5 L1183 926.5 L1182.5 926.5 L1182 926.5 L1181.5 926.5 L1181 926.5 L1180.5 926.5 L1180 926.5 L1179.5 926.5 L1179 926.5 L1178.5 926.5 L1178 926.5 L1177.5 926.5 L1177 926.5 L1176.5 926.5 L1176 926.5 L1175.5 926.5 L1175 926.5 L1174.5 926.5 L1174 926.5 L1173.5 926.5 L1173 926.5 L1172.5 926.5 L1172 926.5 L1171.5 926.5 L1171 926.5 L1170.5 926.5 L1170 926.5 L1169.5 926.5 L1169 926.5 L1168.5 926.5 L1168 926.5 L1167.5 926.5 L1167 926.5 L1166.5 926.5 L1166 926.5 L1165.5 926.5 L1165 926.5 L1164.5 926.5 L1164 926.5 L1163.5 926.5 L1163 926.5 L1162.5 926.5 L1162 926.5 L1161.5 926.5 L1161 926.5 L1160.5 926.5 L1160 926.5 L1159.5 926.5 L1159 926.5 L1158.5 926.5 L1158 926.5 L1157.5 926.5 L1157 926.5 L1156.5 926.5 L1156 926.5 L1155.5 926.5 L1155 926.5 L1154.5 926.5 L1154 926.5 L1153.5 926.5 L1153 926.5 L1152.5 926.5 L1152 926.5 L1151.5 926.5 L1151 926.5 L1150.5 926.5 L1150 926.5 L1149.5 926.5 L1149 926.5 L1148.5 926.5 L1148 926.5 L1147.5 926.5 L1147 926.5 L1146.5 926.5 L1146 926.5 L1145.5 926.5 L1145 926.5 L1144.5 926.5 L1144 926.5 L1143.5 926.5 L1143 926.5 L1142.5 926.5 L1142 926.5 L1141.5 926.5 L1141 926.5 L1140.5 926.5 L1140 926.5 L1139.5 926.5 L1139 926.5 L1138.5 926.5 L1138 926.5 L1137.5 926.5 L1137 926.5 L1136.5 926.5 L1136 926.5 L1135.5 926.5 L1135 926.5 L1134.5 926.5 L1134 926.5 L1133.5 926.5 L1133 926.5 L1132.5 926.5 L1132 926.5 L1131.5 926.5 L1131 926.5 L1130.5 926.5 L1130 926.5 L1129.5 926.5 L1129 926.5 L1128.5 926.5 L1128 926.5 L1127.5 926.5 L1127 926.5 L1126.5 926.5 L1126 926.5 L1125.5 926.5 L1125 926.5 L1124.5 926.5 L1124 926.5 L1123.5 926.5 L1123 926.5 L1122.5 926.5 L1122 926.5 L1121.5 926.5 L1121 926.5 L1120.5 926.5 L1120 926.5 L1119.5 926.5 L1119 926.5 L1118.5 926.5 L1118 926.5 L1117.5 926.5 L1117 926.5 L1116.5 926.5 L1116 926.5 L1115.5 926.5 L1115 926.5 L1114.5 926.5 L1114 926.5 L1113.5 926.5 L1113 926.5 L1112.5 926.5 L1112 926.5 L1111.5 926.5 L1111 926.5 L1110.5 926.5 L1110 926.5 L1109.5 926.5 L1109 926.5 L1108.5 926.5 L1108 926.5 L1107.5 926.5 L1107 926.5 L1106.5 926.5 L1106 926.5 L1105.5 926.5 L1105 926.5 L1104.5 926.5 L1104 926.5 L1103.5 926.5 L1103 926.5 L1102.5 926.5 L1102 926.5 L1101.5 926.5 L1101 926.5 L1100.5 926.5 L1100 926.5 L1099.5 926.5 L1099 926.5 L1098.5 926.5 L1098 926.5 L1097.5 926.5 L1097 926.5 L1096.5 926.5 L1096 926.5 L1095.5 926.5 L1095 926.5 L1094.5 926.5 L1094 926.5 L1093.5 926.5 L1093 926.5 L1092.5 926.5 L1092 926.5 L1091.5 926.5 L1091 926.5 L1090.5 926.5 L1090 926.5 L1089.5 926.5 L1089 926.5 L1088.5 926.5 L1088 926.5 L1087.5 926.5 L1087 926.5 L1086.5 926.5 L1086 926.5 L1085.5 926.5 L1085 926.5 L1084.5 926.5 L1084 926.5 L1083.5 926.5 L1083 926.5 L1082.5 926.5 L1082 926.5 L1081.5 926.5 L1081 926.5Z" fill="#808080" />
<path d="M1231.5 787.8 L1232 788.5 L1232.5 789.3 L1233 789.7 L1233.5 788.2 L1234 788.6 L1234.5 787.7 L1235 788.5 L1235.5 789.1 L1236 787.9 L1236.5 788.3 L1237 788.6 L1237.5 789 L1238 788.9 L1238.5 788.5 L1239 788.9 L1239.5 789.1 L1240 788.3 L1240.5 789.1 L1241 789.3 L1241.5 788.9 L1242 789.2 L1242.5 788.3 L1243 789 L1243.5 788.9 L1244 789.2 L1244.5 788.3 L1245 787.8 L1245.5 788.1 L1246 788.8 L1246.5 789.1 L1247 789.2 L1247.5 788.2 L1248 788.7 L1248.5 789.1 L1249 787.8 L1249.5 788.5 L1250 788.7 L1250.5 787.9 L1251 788.2 L1251.5 787.6 L1252 788.2 L1252.5 788 L1253 788.5 L1253.5 787.7 L1254 788.5 L1254.5 788.3 L1255 788.2 L1255.5 787.5 L1256 788 L1256.5 788.1 L1257 788 L1257.5 787.1 L1258 787.2 L1258.5 787.7 L1259 787.1 L1259.5 787.2 L1260 786.6 L1260.5 788 L1261 787.9 L1261.5 787.4 L1262 787.4 L1262.5 788 L1263 788.7 L1263.5 787.3 L1264 786.9 L1264.5 786.5 L1265 787.7 L1265.5 788.5 L1266 787.2 L1266.5 787.2 L1267 788.2 L1267.5 788 L1268 788.6 L1268.5 787.9 L1269 787.1 L1269.5 788.2 L1270 787 L1270.5 786.7 L1271 787.3 L1271.5 785.9 L1272 786.3 L1272.5 786.8 L1273 785.3 L1273.5 785.9 L1274 784.8 L1274.5 785 L1275 784.1 L1275.5 783.1 L1276 782.5 L1276.5 782.4 L1277 782.1 L1277.5 782.3 L1278 783.7 L1278.5 784.4 L1279 784.7 L1279.5 784 L1280 784.6 L1280.5 784.3 L1281 783.7 L1281.5 783.6 L1282 783 L1282.5 782.5 L1283 783.2 L1283.5 784.1 L1284 783.7 L1284.5 783.3 L1285 783.2 L1285.5 783.4 L1286 784.3 L1286.5 784.9 L1287 785 L1287.5 783.9 L1288 783.4 L1288.5 783.1 L1289 784.3 L1289.5 784.8 L1290 783.9 L1290.5 783.1 L1291 783.1 L1291.5 782.6 L1292 782.9 L1292.5 782.5 L1293 783.2 L1293.5 783.4 L1294 783.1 L1294.5 782.9 L1295 783.9 L1295.5 783.3 L1296 782.9 L1296.5 783.4 L1297 783.1 L1297.5 783.9 L1298 784.1 L1298.5 783.2 L1299 783.4 L1299.5 782.9 L1300 783.2 L1300.5 784.2 L1301 783.3 L1301.5 783.6 L1302 783.4 L1302.5 784.3 L1303 783.6 L1303.5 784 L1304 784.1 L1304.5 784.1 L1305 784.5 L1305.5 785 L1306 784.9 L1306.5 785 L1307 785.2 L1307.5 784.7 L1308 784.5 L1308.5 783.5 L1309 783.3 L1309.5 783 L1310 784.2 L1310.5 783.5 L1311 783.3 L1311.5 783.9 L1312 784.1 L1312.5 783.5 L1313 784.3 L1313.5 783.6 L1314 783.9 L1314.5 783.4 L1315 783.2 L1315.5 784.4 L1316 784.5 L1316.5 783.8 L1317 784.9 L1317.5 784.5 L1318 784.5 L1318.5 785.2 L1319 784.5 L1319.5 784.2 L1320 785.1 L1320.5 785.5 L1321 785.6 L1321.5 785 L1322 785.5 L1322.5 784.8 L1323 784.4 L1323.5 783.7 L1324 784.1 L1324.5 783.6 L1325 784.6 L1325.5 784.8 L1326 785.3 L1326.5 784.1 L1327 783.9 L1327.5 783.8 L1328 785 L1328.5 784.3 L1329 784.3 L1329.5 784.1 L1330 784.6 L1330.5 784.8 L1331 784.7 L1331.5 784.6 L1332 784 L1332.5 783.7 L1333 784 L1333.5 783.9 L1334 784.4 L1334.5 784.7 L1335 785 L1335.5 785.2 L1336 785.1 L1336.5 784.8 L1337 784.3 L1337.5 784.6 L1338 784.8 L1338.5 784.5 L1339 784.2 L1339.5 784.5 L1340 785.5 L1340.5 785.7 L1341 784.5 L1341.5 784.5 L1342 784.5 L1342.5 785.1 L1343 784.5 L1343.5 785.1 L1344 784.7 L1344.5 785.1 L1345 785.6 L1345.5 785.3 L1346 785.6 L1346.5 785.2 L1347 785.5 L1347.5 784.5 L1348 783.9 L1348.5 784.6 L1349 785.6 L1349.5 785.2 L1350 785.8 L1350.5 784.7 L1351 784 L1351.5 783.1 L1352 782.9 L1352.5 782.7 L1353 783.6 L1353.5 783.4 L1354 783.1 L1354.5 783.5 L1355 782.8 L1355.5 783 L1356 784 L1356.5 783.4 L1357 784.5 L1357.5 783.5 L1358 783.8 L1358.5 784.6 L1359 785.4 L1359.5 785 L1360 784.6 L1360.5 784.8 L1361 785.6 L1361.5 785.3 L1362 784.9 L1362.5 785.1 L1363 785.8 L1363.5 785.5 L1364 785.6 L1364.5 785.3 L1365 786 L1365.5 785.5 L1366 786.2 L1366.5 785.3 L1367 785.9 L1367.5 786.9 L1368 786.3 L1368.5 785.8 L1369 786 L1369.5 785.5 L1370 786 L1370.5 787 L1371 785.8 L1371.5 786.5 L1372 786.7 L1372.5 786.2 L1373 786.4 L1373.5 785.8 L1374 786.2 L1374.5 786.6 L1375 787.4 L1375.5 786.8 L1376 786 L1376.5 785.6 L1377 785.5 L1377.5 786.6 L1378 787.2 L1378.5 786.1 L1379 786.1 L1379.5 786.1 L1380 786 L1380.5 787.2 L1381 786.7 L1381.5 786.6 L1382 787.5 L1382.5 788 L1383 787.7 L1383.5 786.5 L1384 787.4 L1384.5 788 L1385 787.2 L1385.5 788 L1386 788.4 L1386.5 787.6 L1387 786.9 L1387.5 787.8 L1388 788 L1388.5 787.1 L1389 786.7 L1389.5 786.6 L1390 786.3 L1390.5 786.7 L1391 786.3 L1391.5 787.5 L1392 787 L1392.5 786.9 L1393 786.4 L1393.5 786.7 L1394 787.6 L1394.5 787.2 L1395 786.8 L1395.5 787.9 L1396 787.2 L1396.5 787.9 L1397 788.7 L1397.5 789.1 L1398 788 L1398.5 787.3 L1399 787.2 L1399.5 787.8 L1400 787.4 L1400.5 787.2 L1401 787 L1401.5 787.6 L1402 788.3 L1402.5 788.5 L1403 788 L1403.5 787.3 L1404 788.4 L1404.5 788.6 L1405 788.5 L1405.5 788.3 L1406 787.5 L1406.5 787.4 L1407 788.2 L1407.5 788.1 L1408 788.7 L1408.5 789.1 L1409 788.3 L1409.5 788.6 L1410 788.2 L1410.5 788.6 L1411 788 L1411.5 787.9 L1412 787.6 L1412.5 788.8 L1413 789 L1413.5 787.9 L1414 787.6 L1414.5 787.8 L1415 787.8 L1415.5 787.6 L1416 788.2 L1416.5 787.9 L1417 788.6 L1417.5 787.7 L1418 788.6 L1418.5 787.8 L1419 788.4 L1419.5 788.1 L1420 788.9 L1420.5 789.5 L1421 788.4 L1421.5 788.3 L1422 789.1 L1422.5 788.2 L1423 788.3 L1423.5 788.9 L1424 789.4 L1424.5 789 L1425 789.3 L1425.5 789.1 L1426 788.3 L1426.5 787.8 L1427 788.9 L1427.5 789 L1428 789.2 L1428.5 788.6 L1429 788.5 L1429.5 788.2 L1430 787.9 L1430.5 788.8 L1431 788.4 L1431.5 788.6 L1432 788.6 L1432.5 789.5 L1433 789.4 L1433.5 789.8 L1434 789.9 L1434.5 789.8 L1435 789.4 L1435.5 789.9 L1436 789.2 L1436.5 788.6 L1437 788.5 L1437.5 789.2 L1438 788.5 L1438.5 788.8 L1439 788.5 L1439.5 788 L1440 789.1 L1440.5 789.6 L1441 789.6 L1441.5 789.5 L1442 788.9 L1442.5 788.2 L1443 789.1 L1443.5 790 L1444 789.3 L1444.5 788.7 L1445 789.6 L1445.5 789.2 L1446 789.6 L1446.5 790.3 L1447 790.4 L1447.5 790.4 L1448 789.4 L1448.5 789.2 L1449 789.5 L1449.5 790.1 L1450 789.1 L1450.5 789.6 L1451 790 L1451.5 790.6 L1452 790.2 L1452.5 789.6 L1453 788.9 L1453.5 788.7 L1454 790.1 L1454.5 789.1 L1455 788.9 L1455.5 788.5 L1456 789.8 L1456.5 789.7 L1457 790.1 L1457.5 789.8 L1458 789.7 L1458.5 790.4 L1459 789.6 L1459.5 789.6 L1460 789.5 L1460.5 789 L1461 789.4 L1461.5 790.4 L1462 791.1 L1462.5 790.2 L1463 788.4 L1463.5 788.3 L1464 787.8 L1464.5 787.1 L1465 786.2 L1465.5 786.5 L1466 785.1 L1466.5 784.5 L1467 784.4 L1467.5 784.4 L1468 784.4 L1468.5 784.1 L1469 783.6 L1469.5 784 L1470 784.8 L1470.5 783.8 L1471 783.6 L1471.5 784 L1472 784.3 L1472.5 784.3 L1473 783.5 L1473.5 783.1 L1474 784.3 L1474.5 784.7 L1475 783.8 L1475.5 784.4 L1476 785 L1476.5 784 L1477 784.3 L1477.5 783.6 L1478 783.2 L1478.5 783.5 L1479 784.1 L1479.5 783.8 L1480 783.9 L1480.5 784.4 L1481 784.5 L1481.5 785.1 L1482 785.1 L1482.5 785.2 L1483 785.4 L1483.5 784.6 L1484 785.3 L1484.5 784 L1485 783.5 L1485.5 784.5 L1486 785.2 L1486.5 784.3 L1487 784.3 L1487.5 784.5 L1488 783.6 L1488.5 784.5 L1489 784.6 L1489.5 784.8 L1490 784 L1490.5 784.3 L1491 784.9 L1491.5 783.8 L1492 783.5 L1492.5 784.6 L1493 783.7 L1493.5 784.6 L1494 784.3 L1494.5 783.8 L1495 783.9 L1495.5 784.4 L1496 784.1 L1496.5 785 L1497 783.9 L1497.5 783.9 L1498 784.3 L1498.5 784.2 L1499 784.5 L1499.5 783.6 L1500 784.9 L1500.5 784.1 L1501 783.9 L1501.5 786 L1502 788 L1502.5 790.3 L1503 789.1 L1503.5 789.9 L1504 790.3 L1504.5 790.2 L1505 789.6 L1505.5 790.4 L1506 790.4 L1506.5 790.6 L1507 790.3 L1507.5 789.8 L1508 789.7 L1508.5 789.6 L1509 790.7 L1509.5 790.2 L1510 789.7 L1510.5 789.3 L1511 790.4 L1511.5 790.2 L1512 789.9 L1512.5 789.3 L1513 789.5 L1513.5 790.1 L1514 790 L1514.5 790.4 L1515 789.9 L1515 900.1 L1514.5 899.9 L1514 901.4 L1513.5 901.1 L1513 900.3 L1512.5 899.6 L1512 899.6 L1511.5 900.3 L1511 899.8 L1510.5 899.3 L1510 900.1 L1509.5 900.1 L1509 900.5 L1508.5 900.2 L1508 900.3 L1507.5 901.5 L1507 901.7 L1506.5 901.8 L1506 901.5 L1505.5 902.6 L1505 902.1 L1504.5 901.6 L1504 902.3 L1503.5 902.7 L1503 902.2 L1502.5 902.6 L1502 901.5 L1501.5 901.2 L1501 901.4 L1500.5 901.8 L1500 900.8 L1499.5 901.5 L1499 901.1 L1498.5 900.9 L1498 901.6 L1497.5 901.7 L1497 901.4 L1496.5 901.9 L1496 901.4 L1495.5 901.8 L1495 903.3 L1494.5 902.9 L1494 902.2 L1493.5 902.4 L1493 901.9 L1492.5 902.9 L1492 902.4 L1491.5 902.5 L1491 903.4 L1490.5 902.8 L1490 902.7 L1489.5 901.6 L1489 901.3 L1488.5 901.2 L1488 901.3 L1487.5 901.8 L1487 902.7 L1486.5 901.8 L1486 902.4 L1485.5 901.8 L1485 902.7 L1484.5 902.9 L1484 903 L1483.5 902.6 L1483 901.8 L1482.5 902.7 L1482 902.2 L1481.5 902.5 L1481 903.9 L1480.5 903.6 L1480 903.3 L1479.5 902.4 L1479 901.5 L1478.5 901.6 L1478 902.6 L1477.5 903.6 L1477 903.5 L1476.5 903.4 L1476 902.3 L1475.5 902.5 L1475 903.9 L1474.5 903.2 L1474 902.6 L1473.5 902.4 L1473 902.3 L1472.5 902.4 L1472 901.6 L1471.5 902.1 L1471 902.6 L1470.5 902.4 L1470 902 L1469.5 902.2 L1469 903.2 L1468.5 902 L1468 902.7 L1467.5 902.3 L1467 902.2 L1466.5 902 L1466 902.8 L1465.5 902 L1465 903 L1464.5 903.7 L1464 903.9 L1463.5 903.1 L1463 904 L1462.5 904.3 L1462 904.4 L1461.5 904.1 L1461 903.7 L1460.5 902.5 L1460 902.6 L1459.5 903.3 L1459 903.3 L1458.5 904.2 L1458 903.5 L1457.5 903 L1457 903.4 L1456.5 903.5 L1456 904.4 L1455.5 904.3 L1455 903.7 L1454.5 903 L1454 902.8 L1453.5 903.7 L1453 904 L1452.5 903.7 L1452 903.3 L1451.5 904.3 L1451 904.9 L1450.5 904.4 L1450 903.7 L1449.5 903.3 L1449 903.7 L1448.5 904 L1448 904.6 L1447.5 903.9 L1447 904.5 L1446.5 903.7 L1446 904.6 L1445.5 903.7 L1445 904.4 L1444.5 903.3 L1444 904.1 L1443.5 905 L1443 905.1 L1442.5 905.2 L1442 904.4 L1441.5 904.2 L1441 904.1 L1440.5 905.2 L1440 904 L1439.5 905.1 L1439 903.5 L1438.5 904.1 L1438 904.1 L1437.5 904.1 L1437 903.7 L1436.5 903.7 L1436 904.4 L1435.5 904.4 L1435 905.4 L1434.5 904.8 L1434 904.3 L1433.5 904.9 L1433 904.5 L1432.5 904.5 L1432 905.2 L1431.5 906 L1431 905.1 L1430.5 904.9 L1430 905.5 L1429.5 904.8 L1429 905 L1428.5 904.9 L1428 906.1 L1427.5 906.5 L1427 905.5 L1426.5 906.5 L1426 906.5 L1425.5 906.4 L1425 905.4 L1424.5 905.3 L1424 906.6 L1423.5 907 L1423 907.2 L1422.5 906.8 L1422 905.9 L1421.5 906.7 L1421 906.4 L1420.5 906 L1420 905 L1419.5 905.1 L1419 905.6 L1418.5 906.9 L1418 906.1 L1417.5 906.9 L1417 906.1 L1416.5 906.6 L1416 907.1 L1415.5 906.9 L1415 906.1 L1414.5 905.1 L1414 905.6 L1413.5 905.5 L1413 905.9 L1412.5 906.9 L1412 906.3 L1411.5 907.4 L1411 907.6 L1410.5 907.1 L1410 906.6 L1409.5 906.7 L1409 905.9 L1408.5 906.7 L1408 907.9 L1407.5 907.4 L1407 906.1 L1406.5 906 L1406 906.4 L1405.5 906.4 L1405 906.4 L1404.5 906.1 L1404 906.6 L1403.5 906.6 L1403 907.2 L1402.5 907.4 L1402 907.1 L1401.5 907.3 L1401 908 L1400.5 908.5 L1400 907.9 L1399.5 907.9 L1399 908.6 L1398.5 908 L1398 907.5 L1397.5 907.5 L1397 907.1 L1396.5 907.6 L1396 907.9 L1395.5 908.5 L1395 907.9 L1394.5 908.1 L1394 906.9 L1393.5 907.3 L1393 908 L1392.5 907.2 L1392 907.2 L1391.5 907.6 L1391 907.5 L1390.5 908.3 L1390 908.6 L1389.5 908.8 L1389 909.1 L1388.5 907.9 L1388 907.9 L1387.5 908.4 L1387 908.3 L1386.5 908.9 L1386 908.3 L1385.5 908.9 L1385 909.2 L1384.5 909.3 L1384 908.7 L1383.5 909.4 L1383 908.2 L1382.5 908.6 L1382 908.6 L1381.5 908 L1381 908.8 L1380.5 908.7 L1380 908.1 L1379.5 908.7 L1379 909.7 L1378.5 909.4 L1378 908.5 L1377.5 909.4 L1377 909.1 L1376.5 908.7 L1376 909.7 L1375.5 908.8 L1375 909.7 L1374.5 909.5 L1374 909.3 L1373.5 909.9 L1373 910.2 L1372.5 909.9 L1372 908.7 L1371.5 909.5 L1371 909.9 L1370.5 910.1 L1370 909.8 L1369.5 910.1 L1369 909.6 L1368.5 910.2 L1368 910.3 L1367.5 911.7 L1367 911.5 L1366.5 911.4 L1366 910.9 L1365.5 911.3 L1365 910.2 L1364.5 911.2 L1364 911.8 L1363.5 911 L1363 911.6 L1362.5 910.7 L1362 910.3 L1361.5 910.2 L1361 911.1 L1360.5 910.7 L1360 911 L1359.5 911.6 L1359 911.4 L1358.5 911.6 L1358 912 L1357.5 911.1 L1357 910.6 L1356.5 912 L1356 912.9 L1355.5 912.5 L1355 912.2 L1354.5 911.3 L1354 910.7 L1353.5 911.2 L1353 912 L1352.5 912.3 L1352 911.6 L1351.5 911.9 L1351 912.5 L1350.5 912.2 L1350 912.6 L1349.5 912.9 L1349 912.6 L1348.5 912.8 L1348 913.5 L1347.5 913.7 L1347 913.7 L1346.5 913.4 L1346 913.3 L1345.5 913.3 L1345 913.1 L1344.5 912.5 L1344 912.1 L1343.5 912.2 L1343 913.1 L1342.5 911.7 L1342 912.3 L1341.5 912.1 L1341 913.2 L1340.5 912 L1340 912.4 L1339.5 912.7 L1339 913.2 L1338.5 913.2 L1338 911.9 L1337.5 912.6 L1337 912.5 L1336.5 913 L1336 913.4 L1335.5 913.1 L1335 913 L1334.5 913.7 L1334 913.6 L1333.5 912.4 L1333 912.8 L1332.5 912.9 L1332 913 L1331.5 913.8 L1331 913.7 L1330.5 914.4 L1330 913.2 L1329.5 914.1 L1329 915.1 L1328.5 914.4 L1328 914.6 L1327.5 914.7 L1327 915 L1326.5 915.2 L1326 915.6 L1325.5 915.5 L1325 915.5 L1324.5 914.9 L1324 913.5 L1323.5 914.5 L1323 914.7 L1322.5 914.8 L1322 914.5 L1321.5 915.4 L1321 914.3 L1320.5 915.7 L1320 915.3 L1319.5 914.7 L1319 914.7 L1318.5 915.6 L1318 915.2 L1317.5 915.8 L1317 915.3 L1316.5 915.9 L1316 915.3 L1315.5 914.5 L1315 915.3 L1314.5 914.9 L1314 914.8 L1313.5 915.2 L1313 915 L1312.5 916.4 L1312 915.8 L1311.5 915.3 L1311 914.6 L1310.5 915.5 L1310 914.6 L1309.5 915.3 L1309 915.7 L1308.5 916.9 L1308 916.1 L1307.5 916.2 L1307 916.4 L1306.5 915 L1306 915.7 L1305.5 915.9 L1305 916.3 L1304.5 915.2 L1304 915.6 L1303.5 915.2 L1303 916 L1302.5 916.2 L1302 916.5 L1301.5 917.9 L1301 917.7 L1300.5 917.2 L1300 917.8 L1299.5 917.6 L1299 917.3 L1298.5 917.1 L1298 916.5 L1297.5 917.4 L1297 916.8 L1296.5 916.3 L1296 916.7 L1295.5 916.2 L1295 917.2 L1294.5 916.6 L1294 917.5 L1293.5 917.7 L1293 916.7 L1292.5 917.7 L1292 917 L1291.5 918.4 L1291 918.4 L1290.5 917.9 L1290 917.7 L1289.5 916.7 L1289 917.9 L1288.5 916.7 L1288 916.7 L1287.5 917 L1287 916.9 L1286.5 915.9 L1286 916.3 L1285.5 916.7 L1285 916.8 L1284.5 917.6 L1284 916.4 L1283.5 916.7 L1283 916.9 L1282.5 917.8 L1282 917.3 L1281.5 918.1 L1281 918.2 L1280.5 917.6 L1280 917.8 L1279.5 916.6 L1279 917.1 L1278.5 918 L1278 916.8 L1277.5 917 L1277 918.2 L1276.5 917.8 L1276 917.1 L1275.5 917.4 L1275 917.1 L1274.5 917.3 L1274 918.3 L1273.5 918.4 L1273 918.2 L1272.5 917.5 L1272 918.8 L1271.5 919.1 L1271 919 L1270.5 918.6 L1270 917.6 L1269.5 918 L1269 919.1 L1268.5 918.2 L1268 918.5 L1267.5 918.1 L1267 917.5 L1266.5 917.8 L1266 918.8 L1265.5 919 L1265 918 L1264.5 917.9 L1264 917.3 L1263.5 917.9 L1263 918.6 L1262.5 919.7 L1262 919.7 L1261.5 919.2 L1261 918.8 L1260.5 918.9 L1260 917.7 L1259.5 918.8 L1259 919 L1258.5 918.9 L1258 918.1 L1257.5 919.2 L1257 917.7 L1256.5 918.2 L1256 918.1 L1255.5 917.9 L1255 918.4 L1254.5 919.2 L1254 919.8 L1253.5 919.1 L1253 919.1 L1252.5 918.3 L1252 919.3 L1251.5 918.6 L1251 919.2 L1250.5 919.5 L1250 919.6 L1249.5 918.5 L1249 919.2 L1248.5 919.2 L1248 919.9 L1247.5 920 L1247 919.4 L1246.5 919.5 L1246 918.5 L1245.5 919.6 L1245 918.8 L1244.5 918.6 L1244 920 L1243.5 919.5 L1243 919.2 L1242.5 919.5 L1242 920 L1241.5 920.2 L1241 919.2 L1240.5 919.6 L1240 918.9 L1239.5 920.1 L1239 920.4 L1238.5 919.5 L1238 919.8 L1237.5 919.2 L1237 919.1 L1236.5 919.8 L1236 919.7 L1235.5 919.9 L1235 919.6 L1234.5 920.2 L1234 920.8 L1233.5 919.8 L1233 920.9 L1232.5 920.4 L1232 921 L1231.5 921.3Z" fill="#1f78b4" />
<path d="M1235.3 918.7 L1236.7 918.7 L1236.2 932.7 L1235.8 932.7Z M1248 917.9 L1249.4 917.9 L1248.9 931.9 L1248.6 931.9Z M1262.3 917 L1263.7 917 L1263.1 931 L1262.8 931Z M1262.1 789.6 L1263.9 789.6 L1263.2 784.6 L1262.8 784.6Z M1270 916.5 L1271.4 916.5 L1270.9 927.5 L1270.6 927.5Z M1282.6 915.7 L1284 915.7 L1283.5 926.7 L1283.2 926.7Z M1282.4 789 L1284.2 789 L1283.5 784 L1283.1 784Z M1289.8 915.3 L1291.2 915.3 L1290.6 929.3 L1290.3 929.3Z M1303.7 914.3 L1305.1 914.3 L1304.6 925.3 L1304.3 925.3Z M1315.2 913.2 L1316.6 913.2 L1316.1 922.2 L1315.8 922.2Z M1315 788 L1316.8 788 L1316.1 783 L1315.7 783Z M1329.8 911.8 L1331.2 911.8 L1330.7 929.8 L1330.4 929.8Z M1329.6 787.6 L1331.4 787.6 L1330.7 782.6 L1330.3 782.6Z M1342.9 910.6 L1344.3 910.6 L1343.8 928.6 L1343.5 928.6Z M1342.7 787.2 L1344.5 787.2 L1343.8 782.2 L1343.4 782.2Z M1348 910.1 L1349.4 910.1 L1348.8 921.1 L1348.5 921.1Z M1361.7 908.8 L1363.1 908.8 L1362.6 919.8 L1362.3 919.8Z M1368.9 908.1 L1370.3 908.1 L1369.7 919.1 L1369.4 919.1Z M1374.1 907.6 L1375.5 907.6 L1375 921.6 L1374.7 921.6Z M1385.9 906.6 L1387.3 906.6 L1386.8 917.6 L1386.5 917.6Z M1385.7 788.6 L1387.5 788.6 L1386.8 782.6 L1386.4 782.6Z M1398.9 905.6 L1400.3 905.6 L1399.7 912.6 L1399.4 912.6Z M1407.2 905 L1408.6 905 L1408.1 919 L1407.8 919Z M1416.2 904.4 L1417.6 904.4 L1417.1 918.4 L1416.8 918.4Z M1421.5 904 L1422.9 904 L1422.3 915 L1422 915Z M1436.3 902.9 L1437.7 902.9 L1437.2 909.9 L1436.9 909.9Z M1448.5 902 L1449.9 902 L1449.3 913 L1449 913Z M1448.3 791.4 L1450.1 791.4 L1449.4 786.4 L1449 786.4Z M1455 901.5 L1456.4 901.5 L1455.9 910.5 L1455.6 910.5Z M1468.4 900.6 L1469.8 900.6 L1469.3 911.6 L1469 911.6Z M1477.7 900.1 L1479.1 900.1 L1478.5 918.1 L1478.2 918.1Z M1491.3 899.3 L1492.7 899.3 L1492.2 908.3 L1491.9 908.3Z M1502.3 898.7 L1503.7 898.7 L1503.2 909.7 L1502.9 909.7Z M1502.1 792 L1503.9 792 L1503.2 784 L1502.8 784Z M1509.9 898.2 L1511.3 898.2 L1510.8 912.2 L1510.5 912.2Z M1238.8 880 L1240.2 880 L1239.7 938 L1239.3 938Z M1278.8 880 L1280.2 880 L1279.7 934 L1279.3 934Z M1360.5 880 L1362 880 L1361.5 962 L1361.1 962Z M1365.5 880 L1367 880 L1366.5 930 L1366.1 930Z M1462.7 880 L1464.2 880 L1463.6 955 L1463.2 955Z M1465.8 880 L1467.3 880 L1466.8 930 L1466.4 930Z M1500.7 880 L1502.2 880 L1501.6 932 L1501.2 932Z M1514.5 880 L1516 880 L1515.5 975 L1515.1 975Z M1518.8 880 L1520.2 880 L1519.7 935 L1519.3 935Z" fill="#1f78b4"/>
<rect x="1361.6" y="770" width="4.4" height="71" fill="#808080"/>
<rect x="1361.8" y="841" width="1.1" height="84" fill="#333333"/>
<rect x="1463.4" y="770" width="3.2" height="32" fill="#808080"/>
<rect x="1463.6" y="802" width="1.1" height="123" fill="#7a8894"/>
<rect x="1501.2" y="770" width="1.1" height="30" fill="#808080"/>
<rect x="1501.2" y="800" width="1.1" height="125" fill="#7a8894"/>
<rect x="1450" y="828" width="1.4" height="76" fill="#333333"/>
<rect x="1515" y="762.8" width="8.5" height="105.20000000000005" fill="#808080"/>
<path d="M1515 868 L1516.5 866 L1518 869 L1520 867 L1523.6 868.5 L1523.6 905 L1521 907.5 L1518 906 L1515 907.5Z" fill="#1f78b4"/>
<path d="M1517.2 790 L1518.6 790 L1518.4 868 L1517.4 868Z M1522.3 835 L1523.5 835 L1523.5 868 L1522.3 868Z" fill="#1f78b4"/>
<path d="M1083.4 828.3 L1083.9 825.3 L1087.4 825.3 L1087.4 905 L1087.1 925.8 L1086.4 929.8 L1086.3 957.8 L1086 965.8 L1086 1026 L1084.9 1026 L1084.9 965.8 L1084.5 957.8 L1084.4 931.8 L1083.4 923.8Z M1088.8 826.9 L1089.3 823.9 L1092.4 823.9 L1092.4 905 L1092.1 922.3 L1091.6 926.3 L1091.5 963 L1091.1 971 L1091.1 1012.4 L1090 1012.4 L1090 971 L1089.7 963 L1089.6 928.3 L1088.8 920.3Z M1093.8 826.6 L1094.3 823.6 L1097.7 823.6 L1097.7 905 L1097.4 921.8 L1096.7 925.8 L1096.6 971.5 L1096.2 979.5 L1096.2 1013.6 L1095.3 1013.6 L1095.3 979.5 L1094.8 971.5 L1094.7 927.8 L1093.8 919.8Z M1099 826.2 L1099.5 823.2 L1102.8 823.2 L1102.8 905 L1102.5 920.4 L1101.9 924.4 L1101.8 966.2 L1101.5 974.2 L1101.5 1008.8 L1100.4 1008.8 L1100.4 974.2 L1100 966.2 L1099.9 926.4 L1099 918.4Z M1104.1 827.7 L1104.6 824.7 L1108.1 824.7 L1108.1 905 L1107.8 925.1 L1107.1 929.1 L1107 968.2 L1106.4 976.2 L1106.4 1012.5 L1105.7 1012.5 L1105.7 976.2 L1105.2 968.2 L1105.1 931.1 L1104.1 923.1Z M1109.3 826.2 L1109.8 823.2 L1113.2 823.2 L1113.2 905 L1112.9 922.1 L1112.2 926.1 L1112.2 968.4 L1111.8 976.4 L1111.8 1008.5 L1110.7 1008.5 L1110.7 976.4 L1110.3 968.4 L1110.2 928.1 L1109.3 920.1Z M1114.5 827.6 L1115 824.6 L1118.3 824.6 L1118.3 905 L1118 920.5 L1117.4 924.5 L1117.3 966.5 L1116.8 974.5 L1116.8 1007.2 L1116.1 1007.2 L1116.1 974.5 L1115.5 966.5 L1115.4 926.5 L1114.5 918.5Z M1119.6 824.7 L1120.1 821.7 L1123.6 821.7 L1123.6 905 L1123.3 921.8 L1122.6 925.8 L1122.5 968.5 L1122.2 976.5 L1122.2 1007.4 L1120.9 1007.4 L1120.9 976.5 L1120.7 968.5 L1120.6 927.8 L1119.6 919.8Z M1124.7 825.4 L1125.2 822.4 L1128.8 822.4 L1128.8 905 L1128.5 925.6 L1127.8 929.6 L1127.7 962.3 L1127.3 970.3 L1127.3 1008.6 L1126.2 1008.6 L1126.2 970.3 L1125.9 962.3 L1125.8 931.6 L1124.7 923.6Z M1130 824 L1130.5 821 L1133.9 821 L1133.9 905 L1133.6 920.7 L1132.9 924.7 L1132.8 955.2 L1132.6 963.2 L1132.6 1009.3 L1131.3 1009.3 L1131.3 963.2 L1131 955.2 L1130.9 926.7 L1130 918.7Z M1135.2 825.8 L1135.7 822.8 L1139 822.8 L1139 905 L1138.7 926 L1138.1 930 L1138 951.6 L1137.6 959.6 L1137.6 1011 L1136.7 1011 L1136.7 959.6 L1136.2 951.6 L1136.1 932 L1135.2 924Z M1140.2 825.1 L1140.7 822.1 L1144.3 822.1 L1144.3 905 L1144 924.4 L1143.3 928.4 L1143.2 970.8 L1142.8 978.8 L1142.8 1008 L1141.7 1008 L1141.7 978.8 L1141.4 970.8 L1141.3 930.4 L1140.2 922.4Z M1145.6 824.4 L1146.1 821.4 L1149.3 821.4 L1149.3 905 L1149 922.4 L1148.4 926.4 L1148.3 969.2 L1148.1 977.2 L1148.1 1008.1 L1146.8 1008.1 L1146.8 977.2 L1146.5 969.2 L1146.4 928.4 L1145.6 920.4Z M1150.8 825 L1151.3 822 L1154.4 822 L1154.4 905 L1154.1 924.5 L1153.6 928.5 L1153.5 968.1 L1153 976.1 L1153 1012.1 L1152.3 1012.1 L1152.3 976.1 L1151.7 968.1 L1151.6 930.5 L1150.8 922.5Z M1155.8 828.4 L1156.3 825.4 L1159.8 825.4 L1159.8 905 L1159.5 920.3 L1158.8 924.3 L1158.7 968.5 L1158.3 976.5 L1158.3 1014 L1157.2 1014 L1157.2 976.5 L1156.9 968.5 L1156.8 926.3 L1155.8 918.3Z M1160.9 829.9 L1161.4 826.9 L1165 826.9 L1165 905 L1164.7 920.1 L1164 924.1 L1163.9 969.7 L1163.5 977.7 L1163.5 1007.9 L1162.4 1007.9 L1162.4 977.7 L1162 969.7 L1162 926.1 L1160.9 918.1Z M1166.1 829.2 L1166.6 826.2 L1170.1 826.2 L1170.1 905 L1169.8 919.7 L1169.1 923.7 L1169 950.4 L1168.5 958.4 L1168.5 1011.8 L1167.8 1011.8 L1167.8 958.4 L1167.2 950.4 L1167.1 925.7 L1166.1 917.7Z M1171.3 830.3 L1171.8 827.3 L1175.3 827.3 L1175.3 905 L1175 923.7 L1174.3 927.7 L1174.2 956.3 L1173.6 964.3 L1173.6 1009.3 L1172.9 1009.3 L1172.9 964.3 L1172.4 956.3 L1172.3 929.7 L1171.3 921.7Z M1176.6 831.2 L1177.1 828.2 L1180.3 828.2 L1180.3 905 L1180 923.4 L1179.5 927.4 L1179.4 946.4 L1178.9 954.4 L1178.9 1007.9 L1178 1007.9 L1178 954.4 L1177.6 946.4 L1177.5 929.4 L1176.6 921.4Z M1181.7 831.5 L1182.2 828.5 L1185.6 828.5 L1185.6 905 L1185.3 924.1 L1184.6 928.1 L1184.5 947.3 L1184 955.3 L1184 1013.3 L1183.3 1013.3 L1183.3 955.3 L1182.7 947.3 L1182.6 930.1 L1181.7 922.1Z M1187 832.7 L1187.5 829.7 L1190.6 829.7 L1190.6 905 L1190.3 922.4 L1189.8 926.4 L1189.7 949.5 L1189.3 957.5 L1189.3 1010 L1188.4 1010 L1188.4 957.5 L1187.9 949.5 L1187.8 928.4 L1187 920.4Z M1192 831.1 L1192.5 828.1 L1195.9 828.1 L1195.9 905 L1195.6 923.4 L1195 927.4 L1194.9 960.2 L1194.5 968.2 L1194.5 1014 L1193.4 1014 L1193.4 968.2 L1193.1 960.2 L1193 929.4 L1192 921.4Z M1197.1 833.7 L1197.6 830.7 L1201.2 830.7 L1201.2 905 L1200.9 919.5 L1200.1 923.5 L1200 971.2 L1199.6 979.2 L1199.6 1013 L1198.7 1013 L1198.7 979.2 L1198.2 971.2 L1198.1 925.5 L1197.1 917.5Z M1202.5 801.9 L1203 798.9 L1206.2 798.9 L1206.2 905 L1205.9 920.9 L1205.3 924.9 L1205.2 947.8 L1204.7 955.8 L1204.7 1007.3 L1204 1007.3 L1204 955.8 L1203.4 947.8 L1203.3 926.9 L1202.5 918.9Z M1207.6 803.9 L1208.1 800.9 L1211.4 800.9 L1211.4 905 L1211.1 919.1 L1210.5 923.1 L1210.4 963.9 L1210 971.9 L1210 1011.6 L1208.9 1011.6 L1208.9 971.9 L1208.6 963.9 L1208.5 925.1 L1207.6 917.1Z M1212.6 804.8 L1213.1 801.8 L1216.7 801.8 L1216.7 905 L1216.4 925.1 L1215.7 929.1 L1215.6 964.7 L1215.2 972.7 L1215.2 1009.8 L1214.1 1009.8 L1214.1 972.7 L1213.8 964.7 L1213.7 931.1 L1212.6 923.1Z M1217.9 833.5 L1218.4 830.5 L1221.7 830.5 L1221.7 905 L1221.4 920.1 L1220.8 924.1 L1220.7 965.8 L1220.3 973.8 L1220.3 1013.2 L1219.4 1013.2 L1219.4 973.8 L1218.9 965.8 L1218.8 926.1 L1217.9 918.1Z M1223 833.5 L1223.5 830.5 L1226.9 830.5 L1226.9 905 L1226.6 920.7 L1226 924.7 L1225.9 959 L1225.6 967 L1225.6 1013.9 L1224.3 1013.9 L1224.3 967 L1224.1 959 L1224 926.7 L1223 918.7Z M1228.2 788 L1228.7 785 L1232.2 785 L1232.2 905 L1231.9 923.6 L1231.2 927.6 L1231.1 948.3 L1230.5 956.3 L1230.5 1011.3 L1229.8 1011.3 L1229.8 956.3 L1229.3 948.3 L1229.2 929.6 L1228.2 921.6Z M1101 826 L1101.3 809 L1101.9 809 L1102.6 826Z M1081 886 L1083.5 884 L1084 927 L1081 927Z" fill="#1f78b4"/>
<rect x="1626" y="784" width="3.6" height="104" fill="#333333"/>
<path d="M1629.7 785.5 L1634.2 785 L1634.2 888.6 L1631.5 887 L1630.6 820 L1629.7 800Z" fill="#1f78b4"/>
<rect x="1081.0" y="845.2" width="553.2" height="2" fill="#333333"/>
<rect x="1081.0" y="928" width="553.0" height="2" fill="#333333"/>
<rect x="1081.0" y="1012" width="553.0" height="1.9" fill="#333333"/>
</svg>
<svg class="i" style="left:1037px;top:204.6px;color:#fff" width="25.3" height="33.6" viewBox="32 0 384 512" preserveAspectRatio="none"><path fill="currentColor" d="M349.4 44.6c5.9-13.7 1.5-29.7-10.6-38.5s-28.6-8-39.9 1.8l-256 224c-10 8.8-13.600 22.900-8.900 35.300S50.700 288 64 288H175.500L98.600 467.400c-5.900 13.700-1.500 29.700 10.600 38.500s28.600 8 39.900-1.800l256-224c10-8.800 13.600-22.900 8.900-35.300s-16.600-20.700-30-20.700H272.500L349.400 44.600z"/></svg>
<svg class="i" style="left:1586.8px;top:202.6px;color:#fff" width="41.8" height="33.4" viewBox="3 0 634 512" preserveAspectRatio="none"><path fill="currentColor" fill-rule="evenodd" d="M105 0 H535 Q575 0 582 38 L636 340 Q644 388 596 388 H44 Q-4 388 4 340 L58 38 Q65 0 105 0 Z M123 71 H213 L198 160 H106 Z  M263 71 H380 L389 160 H251 Z  M430 71 H515 L534 160 H440 Z M94 210 H198 L181 329 H72 Z  M244 210 H396 L406 329 H232 Z  M442 210 H546 L570 329 H454 Z"/><path fill="currentColor" d="M287 380 H350 V450 H410 Q444 450 444 484 V512 H193 V484 Q193 450 227 450 H287 Z"/></svg>
<svg class="i" style="left:2154.9px;top:98.9px;color:#fff" width="22.8" height="13.5" viewBox="6 0 308 186" preserveAspectRatio="none"><path fill="currentColor" d="M30 0 H290 Q330 0 304 36 L184 172 Q160 200 136 172 L16 36 Q-10 0 30 0 Z"/></svg>
<svg class="i" style="left:2446.5px;top:98.9px;color:#fff" width="23.8" height="13.5" viewBox="6 0 308 186" preserveAspectRatio="none"><path fill="currentColor" d="M30 0 H290 Q330 0 304 36 L184 172 Q160 200 136 172 L16 36 Q-10 0 30 0 Z"/></svg>
<svg class="i" style="left:543px;top:589.7px;color:#33a02c" width="34.8" height="27.8" viewBox="3 0 634 512" preserveAspectRatio="none"><path fill="currentColor" fill-rule="evenodd" d="M105 0 H535 Q575 0 582 38 L636 340 Q644 388 596 388 H44 Q-4 388 4 340 L58 38 Q65 0 105 0 Z M123 71 H213 L198 160 H106 Z  M263 71 H380 L389 160 H251 Z  M430 71 H515 L534 160 H440 Z M94 210 H198 L181 329 H72 Z  M244 210 H396 L406 329 H232 Z  M442 210 H546 L570 329 H454 Z"/><path fill="currentColor" d="M287 380 H350 V450 H410 Q444 450 444 484 V512 H193 V484 Q193 450 227 450 H287 Z"/></svg>
<svg class="i" style="left:438.9px;top:780.7px;color:#b2df8a" width="52" height="28" viewBox="3 0 949 512" preserveAspectRatio="none"><path fill="none" stroke="currentColor" stroke-width="58" stroke-linecap="round" stroke-linejoin="round" d="M32 256 H416 M244 84 L420 256 L244 428"/><circle cx="696" cy="256" r="256" fill="currentColor"/><path fill="#333" d="M592 70 Q652 40 722 60 L752 110 L712 150 L652 140 L642 200 L592 230 L552 200 L512 230 L497 180 Q527 110 592 70 Z M652 250 L732 240 L802 290 L792 360 L742 400 L722 470 L672 440 L662 370 L612 330 L612 280 Z M832 110 L882 150 L912 210 L852 220 L812 180 Z"/></svg>
<svg class="i" style="left:653.4px;top:780.7px;color:#2a82c4" width="31.4" height="27.6" viewBox="0 0 571 512" preserveAspectRatio="none"><path fill="currentColor" d="M99 0 H254 Q318 0 318 64 V460 H35 V64 Q35 0 99 0 Z"/><rect x="0" y="442" width="351" height="70" rx="35" fill="currentColor"/><g transform="translate(63 84) scale(0.5 0.424)"><path fill="#333" d="M349.4 44.6c5.9-13.7 1.5-29.7-10.6-38.5s-28.6-8-39.9 1.8l-256 224c-10 8.8-13.600 22.900-8.900 35.300S50.700 288 64 288H175.500L98.600 467.400c-5.900 13.700-1.500 29.700 10.600 38.500s28.600 8 39.900-1.800l256-224c10-8.800 13.600-22.900 8.900-35.300s-16.600-20.700-30-20.700H272.500L349.400 44.600z"/></g><path fill="none" stroke="currentColor" stroke-width="48" stroke-linecap="butt" d="M310 277 H340 Q393 277 393 330 V374 Q393 420 440 420 Q488 420 488 374 V240"/><path fill="currentColor" d="M418 141 H559 Q571 141 571 153 V163 Q571 246 488 246 Q406 246 406 163 V153 Q406 141 418 141 Z"/><rect x="441" y="61" width="31" height="90" rx="15" fill="currentColor"/><rect x="507" y="61" width="31" height="90" rx="15" fill="currentColor"/></svg>
<svg class="i" style="left:561.3px;top:844.7px;color:#f16913" width="21.7" height="28" viewBox="0 0 384 512" preserveAspectRatio="none"><path fill="currentColor" d="M96 0C78.300 0 64 14.300 64 32v96h64V32c0-17.700-14.300-32-32-32zM288 0c-17.700 0-32 14.300-32 32v96h64V32c0-17.700-14.300-32-32-32zM32 160c-17.700 0-32 14.300-32 32s14.300 32 32 32v32c0 77.400 55 142 128 156.800V480c0 17.700 14.300 32 32 32s32-14.300 32-32V412.800C297 398 352 333.400 352 256V224c17.700 0 32-14.300 32-32s-14.300-32-32-32H32z"/></svg>
<svg class="i" style="left:555.2px;top:908.9px;color:#808080" width="31.3" height="27.8" viewBox="4 8 568 504" preserveAspectRatio="none"><path fill="currentColor" d="M288 8 Q300 8 312 18 L562 236 Q580 254 566 272 Q556 288 532 288 H512 V464 Q512 512 464 512 H376 Q352 512 352 488 V384 Q352 352 320 352 H256 Q224 352 224 384 V488 Q224 512 200 512 H112 Q64 512 64 464 V288 H44 Q20 288 10 272 Q-4 254 14 236 L264 18 Q276 8 288 8 Z"/></svg>
<svg class="i" style="left:1670.7px;top:1036.6px;color:#a0a0a0" width="13.7" height="19.7" viewBox="6 6 308 436" preserveAspectRatio="none"><path fill="currentColor" d="M30 192 H290 Q330 192 304 156 L184 20 Q160 -8 136 20 L16 156 Q-10 192 30 192 Z M30 256 H290 Q330 256 304 292 L184 428 Q160 456 136 428 L16 292 Q-10 256 30 256 Z"/></svg>
<svg class="i" style="left:1879.6px;top:1041.5px;color:#b22222" width="16.7" height="15.1" viewBox="32 32 512 448" preserveAspectRatio="none"><path fill="currentColor" d="M64 32C46.300 32 32 46.300 32 64V304v48 80c0 26.500 21.500 48 48 48H496c26.500 0 48-21.500 48-48V304 152.200c0-18.200-19.400-29.700-35.400-21.100L352 215.400V152.200c0-18.200-19.400-29.700-35.400-21.100L160 215.400V64c0-17.700-14.300-32-32-32H64z"/></svg>
<svg class="i" style="left:1959.6px;top:1040.6px;color:#33a02c" width="20.7" height="16.4" viewBox="3 0 634 512" preserveAspectRatio="none"><path fill="currentColor" fill-rule="evenodd" d="M105 0 H535 Q575 0 582 38 L636 340 Q644 388 596 388 H44 Q-4 388 4 340 L58 38 Q65 0 105 0 Z M123 71 H213 L198 160 H106 Z  M263 71 H380 L389 160 H251 Z  M430 71 H515 L534 160 H440 Z M94 210 H198 L181 329 H72 Z  M244 210 H396 L406 329 H232 Z  M442 210 H546 L570 329 H454 Z"/><path fill="currentColor" d="M287 380 H350 V450 H410 Q444 450 444 484 V512 H193 V484 Q193 450 227 450 H287 Z"/></svg>
<svg class="i" style="left:2036px;top:1040.6px;color:#b2df8a" width="31" height="16.6" viewBox="3 0 949 512" preserveAspectRatio="none"><path fill="none" stroke="currentColor" stroke-width="58" stroke-linecap="round" stroke-linejoin="round" d="M32 256 H416 M244 84 L420 256 L244 428"/><circle cx="696" cy="256" r="256" fill="currentColor"/><path fill="#333" d="M592 70 Q652 40 722 60 L752 110 L712 150 L652 140 L642 200 L592 230 L552 200 L512 230 L497 180 Q527 110 592 70 Z M652 250 L732 240 L802 290 L792 360 L742 400 L722 470 L672 440 L662 370 L612 330 L612 280 Z M832 110 L882 150 L912 210 L852 220 L812 180 Z"/></svg>
<svg class="i" style="left:2126.8px;top:1040.4px;color:#f16913" width="13" height="17.2" viewBox="0 0 384 512" preserveAspectRatio="none"><path fill="currentColor" d="M96 0C78.300 0 64 14.300 64 32v96h64V32c0-17.700-14.300-32-32-32zM288 0c-17.700 0-32 14.300-32 32v96h64V32c0-17.700-14.300-32-32-32zM32 160c-17.700 0-32 14.300-32 32s14.300 32 32 32v32c0 77.400 55 142 128 156.800V480c0 17.700 14.300 32 32 32s32-14.300 32-32V412.800C297 398 352 333.400 352 256V224c17.700 0 32-14.300 32-32s-14.300-32-32-32H32z"/></svg>
<svg class="i" style="left:2206.1px;top:1040.4px;color:#1f78b4" width="18.1" height="16.6" viewBox="0 0 571 512" preserveAspectRatio="none"><path fill="currentColor" d="M99 0 H254 Q318 0 318 64 V460 H35 V64 Q35 0 99 0 Z"/><rect x="0" y="442" width="351" height="70" rx="35" fill="currentColor"/><g transform="translate(63 84) scale(0.5 0.424)"><path fill="#333" d="M349.4 44.6c5.9-13.7 1.5-29.7-10.6-38.5s-28.6-8-39.9 1.8l-256 224c-10 8.8-13.600 22.900-8.900 35.300S50.700 288 64 288H175.500L98.600 467.400c-5.900 13.700-1.500 29.700 10.600 38.500s28.600 8 39.900-1.800l256-224c10-8.800 13.600-22.900 8.900-35.300s-16.600-20.700-30-20.700H272.500L349.400 44.600z"/></g><path fill="none" stroke="currentColor" stroke-width="48" stroke-linecap="butt" d="M310 277 H340 Q393 277 393 330 V374 Q393 420 440 420 Q488 420 488 374 V240"/><path fill="currentColor" d="M418 141 H559 Q571 141 571 153 V163 Q571 246 488 246 Q406 246 406 163 V153 Q406 141 418 141 Z"/><rect x="441" y="61" width="31" height="90" rx="15" fill="currentColor"/><rect x="507" y="61" width="31" height="90" rx="15" fill="currentColor"/></svg>
<svg class="i" style="left:2368.4px;top:1041px;color:#808080" width="19.6" height="16" viewBox="4 8 568 504" preserveAspectRatio="none"><path fill="currentColor" d="M288 8 Q300 8 312 18 L562 236 Q580 254 566 272 Q556 288 532 288 H512 V464 Q512 512 464 512 H376 Q352 512 352 488 V384 Q352 352 320 352 H256 Q224 352 224 384 V488 Q224 512 200 512 H112 Q64 512 64 464 V288 H44 Q20 288 10 272 Q-4 254 14 236 L264 18 Q276 8 288 8 Z"/></svg>
<svg class="i" style="left:559.8px;top:1125.9px;color:#fff" width="35.5" height="35.5" viewBox="0 0 512 512" preserveAspectRatio="none"><circle cx="256" cy="256" r="256" fill="currentColor"/><circle cx="256" cy="150" r="34" fill="#333"/><path fill="#333" d="M216 224 H280 V336 H312 Q328 336 328 356 Q328 376 312 376 H208 Q192 376 192 356 Q192 336 208 336 H232 V264 H216 Q200 264 200 244 Q200 224 216 224 Z"/></svg>
<svg class="i" style="left:1262.2px;top:1127px;color:#28557a" width="39.8" height="35.5" viewBox="0 0 571 512" preserveAspectRatio="none"><path fill="currentColor" d="M99 0 H254 Q318 0 318 64 V460 H35 V64 Q35 0 99 0 Z"/><rect x="0" y="442" width="351" height="70" rx="35" fill="currentColor"/><g transform="translate(63 84) scale(0.5 0.424)"><path fill="#333" d="M349.4 44.6c5.9-13.7 1.5-29.7-10.6-38.5s-28.6-8-39.9 1.8l-256 224c-10 8.8-13.600 22.900-8.900 35.300S50.700 288 64 288H175.500L98.600 467.400c-5.900 13.700-1.500 29.700 10.600 38.500s28.600 8 39.900-1.800l256-224c10-8.800 13.600-22.900 8.900-35.300s-16.600-20.700-30-20.700H272.500L349.400 44.600z"/></g><path fill="none" stroke="currentColor" stroke-width="48" stroke-linecap="butt" d="M310 277 H340 Q393 277 393 330 V374 Q393 420 440 420 Q488 420 488 374 V240"/><path fill="currentColor" d="M418 141 H559 Q571 141 571 153 V163 Q571 246 488 246 Q406 246 406 163 V153 Q406 141 418 141 Z"/><rect x="441" y="61" width="31" height="90" rx="15" fill="currentColor"/><rect x="507" y="61" width="31" height="90" rx="15" fill="currentColor"/></svg>
<svg class="i" style="left:2009.7px;top:1127px;color:#9e5124" width="26.7" height="35.5" viewBox="0 0 384 512" preserveAspectRatio="none"><path fill="currentColor" d="M96 0C78.300 0 64 14.300 64 32v96h64V32c0-17.700-14.300-32-32-32zM288 0c-17.700 0-32 14.300-32 32v96h64V32c0-17.700-14.300-32-32-32zM32 160c-17.700 0-32 14.300-32 32s14.300 32 32 32v32c0 77.400 55 142 128 156.800V480c0 17.700 14.300 32 32 32s32-14.300 32-32V412.800C297 398 352 333.400 352 256V224c17.700 0 32-14.300 32-32s-14.300-32-32-32H32z"/></svg>
<svg class="i" style="left:671.9px;top:1250.3px;color:#6baed6" width="50.5" height="44.7" viewBox="0 0 571 512" preserveAspectRatio="none"><path fill="currentColor" d="M99 0 H254 Q318 0 318 64 V460 H35 V64 Q35 0 99 0 Z"/><rect x="0" y="442" width="351" height="70" rx="35" fill="currentColor"/><g transform="translate(63 84) scale(0.5 0.424)"><path fill="#333" d="M349.4 44.6c5.9-13.7 1.5-29.7-10.6-38.5s-28.6-8-39.9 1.8l-256 224c-10 8.8-13.600 22.900-8.900 35.300S50.700 288 64 288H175.500L98.600 467.400c-5.900 13.700-1.500 29.700 10.600 38.500s28.600 8 39.900-1.800l256-224c10-8.800 13.600-22.900 8.900-35.300s-16.600-20.700-30-20.700H272.500L349.400 44.600z"/></g><path fill="none" stroke="currentColor" stroke-width="48" stroke-linecap="butt" d="M310 277 H340 Q393 277 393 330 V374 Q393 420 440 420 Q488 420 488 374 V240"/><path fill="currentColor" d="M418 141 H559 Q571 141 571 153 V163 Q571 246 488 246 Q406 246 406 163 V153 Q406 141 418 141 Z"/><rect x="441" y="61" width="31" height="90" rx="15" fill="currentColor"/><rect x="507" y="61" width="31" height="90" rx="15" fill="currentColor"/></svg>
<svg class="i" style="left:1299.2px;top:1251.1px;color:#aaaaaa" width="8.5" height="30.2" viewBox="8 8 112 432" preserveAspectRatio="none"><circle cx="64" cy="64" r="56" fill="currentColor"/><circle cx="64" cy="224" r="56" fill="currentColor"/><circle cx="64" cy="384" r="56" fill="currentColor"/></svg>
<svg class="i" style="left:685.4px;top:1397.8px;color:#1f78be" width="30.6" height="38.6" viewBox="32 0 384 512" preserveAspectRatio="none"><path fill="currentColor" d="M349.4 44.6c5.9-13.7 1.5-29.7-10.6-38.5s-28.6-8-39.9 1.8l-256 224c-10 8.8-13.600 22.900-8.900 35.300S50.700 288 64 288H175.500L98.600 467.400c-5.900 13.700-1.500 29.700 10.600 38.500s28.600 8 39.900-1.800l256-224c10-8.800 13.600-22.900 8.900-35.300s-16.600-20.700-30-20.700H272.500L349.400 44.600z"/></svg>
<svg class="i" style="left:741.4px;top:1617.7px;color:#fff" width="22.7" height="23.7" viewBox="25 1 462 501" preserveAspectRatio="none"><path fill="none" stroke="currentColor" stroke-width="70" stroke-linecap="round" d="M256 36 V250 M142 112 A196 196 0 1 0 370 112"/></svg>
<svg class="i" style="left:860.1px;top:1621.1px;color:#666" width="16.3" height="17.6" viewBox="0 32 320 448" preserveAspectRatio="none"><rect x="0" y="32" width="120" height="448" rx="40" fill="currentColor"/><rect x="200" y="32" width="120" height="448" rx="40" fill="currentColor"/></svg>
<svg class="i" style="left:961.8px;top:1617.7px;color:#333" width="30.2" height="24.4" viewBox="3 0 634 512" preserveAspectRatio="none"><path fill="currentColor" fill-rule="evenodd" d="M105 0 H535 Q575 0 582 38 L636 340 Q644 388 596 388 H44 Q-4 388 4 340 L58 38 Q65 0 105 0 Z M123 71 H213 L198 160 H106 Z  M263 71 H380 L389 160 H251 Z  M430 71 H515 L534 160 H440 Z M94 210 H198 L181 329 H72 Z  M244 210 H396 L406 329 H232 Z  M442 210 H546 L570 329 H454 Z"/><path fill="currentColor" d="M287 380 H350 V450 H410 Q444 450 444 484 V512 H193 V484 Q193 450 227 450 H287 Z"/></svg>
<svg class="i" style="left:1081.9px;top:1617.7px;color:#e3aa28" width="24" height="24.3" viewBox="0 0 512 512" preserveAspectRatio="none"><circle cx="256" cy="256" r="226" fill="none" stroke="currentColor" stroke-width="60"/><circle cx="256" cy="256" r="120" fill="none" stroke="currentColor" stroke-width="52"/><circle cx="256" cy="256" r="40" fill="currentColor"/></svg>
<svg class="i" style="left:1212.7px;top:1617.7px;color:#2580c3" width="20" height="24.4" viewBox="32 0 384 512" preserveAspectRatio="none"><path fill="currentColor" d="M349.4 44.6c5.9-13.7 1.5-29.7-10.6-38.5s-28.6-8-39.9 1.8l-256 224c-10 8.8-13.600 22.900-8.900 35.300S50.700 288 64 288H175.500L98.600 467.400c-5.900 13.700-1.500 29.700 10.600 38.500s28.600 8 39.900-1.800l256-224c10-8.800 13.600-22.900 8.900-35.300s-16.600-20.700-30-20.700H272.500L349.400 44.600z"/></svg>
<svg class="i" style="left:671.8px;top:1795.1px;color:#9b9b9b" width="39.6" height="34.7" viewBox="0 0 512 448" preserveAspectRatio="none"><path fill="currentColor" fill-rule="evenodd" d="M150 0 H362 Q410 0 428 46 L462 140 Q512 160 512 216 V416 Q512 448 480 448 H448 Q416 448 416 416 V368 H96 V416 Q96 448 64 448 H32 Q0 448 0 416 V216 Q0 160 50 140 L84 46 Q102 0 150 0 Z M150 64 Q146 64 144 70 L120 136 H392 L368 70 Q366 64 362 64 Z M96 208 A32 32 0 1 0 96.100 208 Z  M416 208 A32 32 0 1 0 416.100 208 Z"/></svg>
<svg class="i" style="left:685.9px;top:1930.7px;color:#9b9b9b" width="44.3" height="25" viewBox="0 0 576 320" preserveAspectRatio="none"><path fill="currentColor" fill-rule="evenodd" d="M80 0 H448 Q528 0 528 80 V96 Q576 96 576 128 V192 Q576 224 528 224 V240 Q528 320 448 320 H80 Q0 320 0 240 V80 Q0 0 80 0 Z M80 64 Q64 64 64 80 V240 Q64 256 80 256 H448 Q464 256 464 240 V80 Q464 64 448 64 Z"/><rect x="96" y="96" width="336" height="128" fill="currentColor"/></svg>
<svg class="i" style="left:842.9px;top:1929.4px;color:#828282" width="32.3" height="31.6" viewBox="22 20 468 471" preserveAspectRatio="none"><path fill="none" stroke="currentColor" stroke-width="64" stroke-linecap="butt" d="M60 210 A200 200 0 0 1 420 140"/><path fill="currentColor" d="M490 20 V200 Q490 216 474 216 H300 Z"/><path fill="none" stroke="currentColor" stroke-width="64" stroke-linecap="butt" d="M452 302 A200 200 0 0 1 92 372"/><path fill="currentColor" d="M22 492 V312 Q22 296 38 296 H212 Z"/></svg>
<svg class="i" style="left:1422.6px;top:1250.3px;color:#f16913" width="34.5" height="44.7" viewBox="0 0 384 512" preserveAspectRatio="none"><path fill="currentColor" d="M96 0C78.300 0 64 14.300 64 32v96h64V32c0-17.700-14.300-32-32-32zM288 0c-17.700 0-32 14.300-32 32v96h64V32c0-17.700-14.300-32-32-32zM32 160c-17.700 0-32 14.300-32 32s14.300 32 32 32v32c0 77.400 55 142 128 156.800V480c0 17.700 14.300 32 32 32s32-14.300 32-32V412.800C297 398 352 333.400 352 256V224c17.700 0 32-14.300 32-32s-14.300-32-32-32H32z"/></svg>
<svg class="i" style="left:2050.2px;top:1251.1px;color:#aaaaaa" width="8.8" height="30.2" viewBox="8 8 112 432" preserveAspectRatio="none"><circle cx="64" cy="64" r="56" fill="currentColor"/><circle cx="64" cy="224" r="56" fill="currentColor"/><circle cx="64" cy="384" r="56" fill="currentColor"/></svg>
<div id="txt" style="position:absolute;left:0;top:0;width:2732px;height:2048px;will-change:transform">
<span class="t" style="left:30.7px;top:11.26px;font-size:24.5px;-webkit-text-stroke:0.45px #fff;color:#ffffff;transform:scaleX(1.0535)">14:37</span>
<span class="t" style="left:115.55px;top:11.26px;font-size:24.5px;-webkit-text-stroke:0.45px #fff;color:#ffffff;transform:scaleX(1.0768)">Mittwoch 11. Okt.</span>
<span class="t" style="left:2580.67px;top:11.03px;font-size:25px;-webkit-text-stroke:0.45px #fff;color:#ffffff;transform:scaleX(1.0263)">76 %</span>
<span class="t" style="left:247.32px;top:90px;font-size:31.3px;font-weight:700;color:#ffffff;transform:scaleX(1.1021)">openWB</span>
<span class="t" style="left:1754.78px;top:83.68px;font-size:40.3px;color:#ffffff;transform:scaleX(0.9684)">Status</span>
<span class="t" style="left:1895px;top:83.68px;font-size:40.3px;color:#ffffff;transform:scaleX(0.9719)">Auswertungen</span>
<span class="t" style="left:2203.65px;top:83.68px;font-size:40.3px;color:#ffffff;transform:scaleX(0.9701)">Einstellungen</span>
<span class="t" style="left:1076.7px;top:204.53px;font-size:34.8px;font-weight:700;color:#ffffff;transform:scaleX(1.0084)">2,4 kW</span>
<span class="t" style="left:1322.02px;top:202.01px;font-size:39.2px;color:#ffffff;transform:scaleX(0.9692)">Garage</span>
<span class="t" style="left:1643.63px;top:203.42px;font-size:33.4px;font-weight:700;color:#ffffff;transform:scaleX(0.9922)">PV</span>
<span class="t" style="left:297.72px;top:331.51px;font-size:47px;font-weight:700;color:#d8d8d8;transform:scaleX(0.9263)">Aktuelle Leistung</span>
<span class="t" style="left:302.59px;top:432.57px;font-size:27.2px;color:#6baed6;transform:scaleX(0.9920)">Kona: 95%</span>
<span class="t" style="left:586.14px;top:590.47px;font-size:27.2px;color:#33a02c;transform:scaleX(1.0104)">3,20 kW</span>
<span class="t" style="left:441px;top:718.87px;font-size:27.2px;color:#ffffff;transform:scaleX(0.9787)">Aktueller Verbrauch: 3,10 kW</span>
<span class="t" style="left:498.45px;top:781.67px;font-size:27.2px;color:#b2df8a;transform:scaleX(0.9769)">231 W</span>
<span class="t" style="left:691.59px;top:781.67px;font-size:27.2px;color:#2a82c4;transform:scaleX(1.0259)">2,40 kW</span>
<span class="t" style="left:589.98px;top:845.37px;font-size:27.2px;color:#f16913;transform:scaleX(1.0121)">106 W</span>
<span class="t" style="left:594.22px;top:909.27px;font-size:27.2px;color:#808080;transform:scaleX(1.0319)">585 W</span>
<span class="t" style="left:1046.47px;top:331.51px;font-size:47px;font-weight:700;color:#d8d8d8;transform:scaleX(0.9306)">Leistung / Ladestand</span>
<span class="t" style="left:1537.2px;top:339.64px;font-size:35.5px;color:#333333;transform:scaleX(0.9453)">125 min</span>
<span class="t" style="left:1047.37px;top:744.08px;font-size:15.5px;color:#6e6e6e;transform:scaleX(1.0282)">kWh</span>
<span class="t" style="left:1796.78px;top:331.51px;font-size:47px;font-weight:700;color:#d8d8d8;transform:scaleX(0.9264)">Energie</span>
<span class="t" style="left:2288.2px;top:339.64px;font-size:35.5px;color:#333333;transform:scaleX(0.9453)">125 min</span>
<span class="t" style="left:1798.15px;top:431.08px;font-size:15.5px;color:#6e6e6e;transform:scaleX(1.0454)">kWh</span>
<span class="t" style="left:1851.6px;top:864.44px;font-size:17.2px;color:#b4b4b4;transform:scaleX(0.9945)">4,60 kWh</span>
<span class="t" style="left:1856.9px;top:885.68px;font-size:14.2px;color:#33a02c;transform:scaleX(1.0091)">Aut: 78 %</span>
<span class="t" style="left:1929.73px;top:436.64px;font-size:17.2px;color:#b4b4b4;transform:scaleX(0.9620)">21,20 kWh</span>
<span class="t" style="left:1930.59px;top:457.78px;font-size:14.2px;color:#33a02c;transform:scaleX(1.0087)">Eigen: 76 %</span>
<span class="t" style="left:2014.7px;top:872.84px;font-size:17.2px;color:#b4b4b4;transform:scaleX(0.9959)">5,00 kWh</span>
<span class="t" style="left:2097.13px;top:945.84px;font-size:17.2px;color:#b4b4b4;transform:scaleX(0.9745)">1,40 kWh</span>
<span class="t" style="left:2102.7px;top:967.98px;font-size:14.2px;color:#33a02c;transform:scaleX(0.9911)">Aut: 41 %</span>
<span class="t" style="left:2178.21px;top:818.84px;font-size:17.2px;color:#b4b4b4;transform:scaleX(0.9931)">6,30 kWh</span>
<span class="t" style="left:2183.2px;top:840.98px;font-size:14.2px;color:#33a02c;transform:scaleX(1.0320)">Aut: 98 %</span>
<span class="t" style="left:2260.21px;top:838.44px;font-size:17.2px;color:#b4b4b4;transform:scaleX(0.9931)">6,30 kWh</span>
<span class="t" style="left:2337.02px;top:610.14px;font-size:17.2px;color:#b4b4b4;transform:scaleX(0.9818)">14,40 kWh</span>
<span class="t" style="left:2348.8px;top:632.28px;font-size:14.2px;color:#33a02c;transform:scaleX(0.9682)">Aut: 71 %</span>
<span class="t" style="left:2269.35px;top:1039.78px;font-size:17.5px;color:#6baed6;transform:scaleX(0.9395)">Garage</span>
<span class="t" style="left:617px;top:1130.31px;font-size:29.4px;color:#ffffff;transform:scaleX(0.9665)">Alles</span>
<span class="t" style="left:1314.19px;top:1131.11px;font-size:29.4px;color:#696969;transform:scaleX(1.0041)">Ladepunkte</span>
<span class="t" style="left:2051.5px;top:1131.11px;font-size:29.4px;color:#696969;transform:scaleX(0.9767)">Smart Home</span>
<span class="t" style="left:744.12px;top:1250.2px;font-size:45px;font-weight:700;color:#6baed6;transform:scaleX(0.9819)">Garage</span>
<span class="t" style="left:701.47px;top:1354.05px;font-size:28.4px;color:#969696;transform:scaleX(1.0453)">Status:</span>
<span class="t" style="left:919.75px;top:1354.05px;font-size:28.4px;color:#969696;transform:scaleX(1.0111)">Geladen:</span>
<span class="t" style="left:1140.31px;top:1354.05px;font-size:28.4px;color:#969696;transform:scaleX(1.0072)">gel. Reichw.:</span>
<span class="t" style="left:723.64px;top:1398.38px;font-size:39px;font-weight:700;color:#1f78be;transform:scaleX(1.0088)">Lädt</span>
<span class="t" style="left:889.6px;top:1398.38px;font-size:39px;font-weight:700;color:#ffffff;transform:scaleX(1.0588)">4,30 kWh</span>
<span class="t" style="left:1162.95px;top:1398.38px;font-size:39px;font-weight:700;color:#ffffff;transform:scaleX(1.0716)">36 km</span>
<span class="t" style="left:703.15px;top:1475.65px;font-size:28.4px;color:#969696;transform:scaleX(1.0581)">Leistung:</span>
<span class="t" style="left:940.58px;top:1475.65px;font-size:28.4px;color:#969696;transform:scaleX(1.0418)">Stromstärke:</span>
<span class="t" style="left:1196.54px;top:1475.65px;font-size:28.4px;color:#969696;transform:scaleX(1.0168)">Phasen:</span>
<span class="t" style="left:686.51px;top:1519.58px;font-size:39px;font-weight:700;color:#ffffff;transform:scaleX(1.0569)">2,40 kW</span>
<span class="t" style="left:964.12px;top:1519.58px;font-size:39px;font-weight:700;color:#ffffff;transform:scaleX(1.0195)">12,5 A</span>
<span class="t" style="left:1238.93px;top:1519.58px;font-size:39px;font-weight:700;color:#ffffff;transform:scaleX(0.9299)">1</span>
<span class="t" style="left:726.09px;top:1654.09px;font-size:25.4px;color:#ffffff;transform:scaleX(1.0135)">Stop</span>
<span class="t" style="left:820.69px;top:1654.09px;font-size:25.4px;color:#666666;transform:scaleX(1.0119)">Standby</span>
<span class="t" style="left:960.65px;top:1654.09px;font-size:25.4px;color:#333333;transform:scaleX(0.9265)">PV</span>
<span class="t" style="left:1041.68px;top:1654.09px;font-size:25.4px;color:#e3aa28;transform:scaleX(1.0243)">Zielladen</span>
<span class="t" style="left:1187.17px;top:1654.09px;font-size:25.4px;color:#2580c3;transform:scaleX(1.0299)">Sofort</span>
<span class="t" style="left:734.4px;top:1790.4px;font-size:45px;font-weight:700;color:#d8d8d8;transform:scaleX(0.9248)">Kona</span>
<span class="t" style="left:708.59px;top:1879.75px;font-size:28.4px;color:#969696;transform:scaleX(1.0415)">Ladestand:</span>
<span class="t" style="left:961.95px;top:1879.75px;font-size:28.4px;color:#969696;transform:scaleX(1.0147)">Reichweite:</span>
<span class="t" style="left:1189.48px;top:1879.75px;font-size:28.4px;color:#969696;transform:scaleX(1.0382)">Zeitplan:</span>
<span class="t" style="left:739.84px;top:1924.88px;font-size:39px;font-weight:700;color:#ffffff;transform:scaleX(1.1155)">95%</span>
<span class="t" style="left:965.24px;top:1924.88px;font-size:39px;font-weight:700;color:#ffffff;transform:scaleX(1.0883)">340 km</span>
<span class="t" style="left:1201.41px;top:1924.88px;font-size:39px;font-weight:700;color:#ffffff;transform:scaleX(1.0201)">Nein</span>
<span class="t" style="left:1483.91px;top:1250.2px;font-size:45px;font-weight:700;color:#d8d8d8;transform:scaleX(0.9875)">Geräte</span>
<span class="t" style="left:1423.53px;top:1359.4px;font-size:45px;font-weight:700;color:#fd8d3c;transform:scaleX(0.9812)">USVStrom</span>
<span class="t" style="left:1435.47px;top:1434.75px;font-size:28.4px;color:#969696;transform:scaleX(1.0500)">Leistung:</span>
<span class="t" style="left:1645.13px;top:1434.75px;font-size:28.4px;color:#969696;transform:scaleX(1.0238)">Energie:</span>
<span class="t" style="left:1887.44px;top:1434.75px;font-size:28.4px;color:#969696;transform:scaleX(1.0646)">Laufzeit:</span>
<span class="t" style="left:1435.98px;top:1479.68px;font-size:39px;font-weight:700;color:#ffffff;transform:scaleX(1.0358)">106 W</span>
<span class="t" style="left:1650.23px;top:1479.68px;font-size:39px;font-weight:700;color:#ffffff;transform:scaleX(1.0460)">0 Wh</span>
<span class="t" style="left:1841.52px;top:1479.68px;font-size:39px;font-weight:700;color:#ffffff;transform:scaleX(1.0179)">14h 37 min</span>
<span class="t" style="left:1067.74px;top:478.32px;font-size:14.5px;font-weight:700;color:#747474;transform:scaleX(1.06)">6</span>
<span class="t" style="left:1067.32px;top:562.22px;font-size:14.5px;font-weight:700;color:#747474;transform:scaleX(1.06)">4</span>
<span class="t" style="left:1067.85px;top:645.32px;font-size:14.5px;font-weight:700;color:#747474;transform:scaleX(1.06)">2</span>
<span class="t" style="left:1067.85px;top:838.92px;font-size:14.5px;font-weight:700;color:#747474;transform:scaleX(1.06)">2</span>
<span class="t" style="left:1067.32px;top:921.72px;font-size:14.5px;font-weight:700;color:#747474;transform:scaleX(1.06)">4</span>
<span class="t" style="left:1067.74px;top:1005.72px;font-size:14.5px;font-weight:700;color:#747474;transform:scaleX(1.06)">6</span>
<span class="t" style="left:1182.19px;top:744.08px;font-size:15.5px;color:#828282;transform:scaleX(0.93)">13:00</span>
<span class="t" style="left:1314.89px;top:744.08px;font-size:15.5px;color:#828282;transform:scaleX(0.93)">13:30</span>
<span class="t" style="left:1447.59px;top:744.08px;font-size:15.5px;color:#828282;transform:scaleX(0.93)">14:00</span>
<span class="t" style="left:1580.29px;top:744.08px;font-size:15.5px;color:#828282;transform:scaleX(0.93)">14:30</span>
<span class="t" style="left:1809.29px;top:504.1px;font-size:15px;color:#7a7a7a;transform:scaleX(1.06)">20</span>
<span class="t" style="left:1809.29px;top:633.7px;font-size:15px;color:#7a7a7a;transform:scaleX(1.06)">15</span>
<span class="t" style="left:1809.29px;top:762.9px;font-size:15px;color:#7a7a7a;transform:scaleX(1.06)">10</span>
<span class="t" style="left:1818.13px;top:892.4px;font-size:15px;color:#7a7a7a;transform:scaleX(1.06)">5</span>
</div>
</body></html>
